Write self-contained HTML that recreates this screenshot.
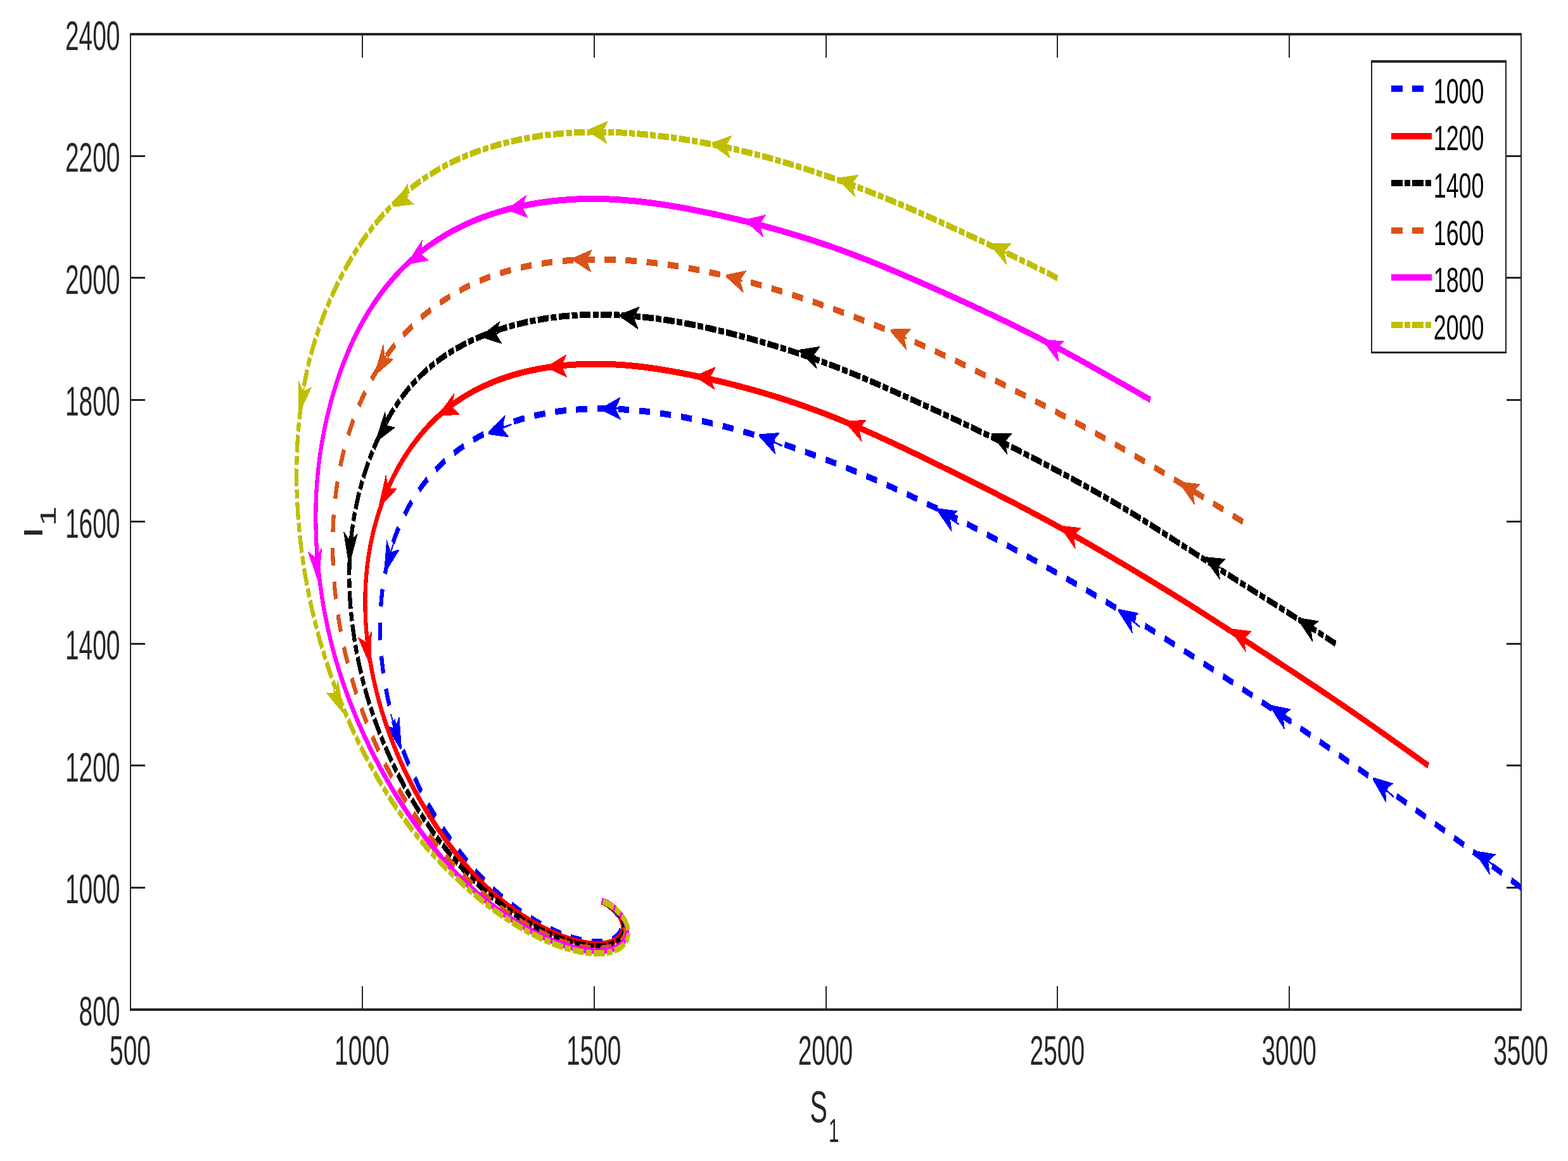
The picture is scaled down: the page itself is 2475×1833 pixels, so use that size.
<!DOCTYPE html>
<html><head><meta charset="utf-8"><title>Phase portrait S1-I1</title>
<style>html,body{margin:0;padding:0;background:#ffffff}svg{display:block}text{font-family:"Liberation Sans",sans-serif}</style></head>
<body>
<svg width="2475" height="1833" viewBox="0 0 2475 1833">
<rect x="0" y="0" width="2475" height="1833" fill="#ffffff"/>
<g fill="#262626" shape-rendering="crispEdges">
<rect x="205" y="52" width="2197" height="4"/>
<rect x="205" y="1592" width="2197" height="4"/>
<rect x="205" y="52" width="2" height="1544"/>
<rect x="2400" y="52" width="2" height="1544"/>
<rect x="571" y="1557" width="2" height="36"/>
<rect x="571" y="55" width="2" height="36"/>
<rect x="937" y="1557" width="2" height="36"/>
<rect x="937" y="55" width="2" height="36"/>
<rect x="1303" y="1557" width="2" height="36"/>
<rect x="1303" y="55" width="2" height="36"/>
<rect x="1668" y="1557" width="2" height="36"/>
<rect x="1668" y="55" width="2" height="36"/>
<rect x="2034" y="1557" width="2" height="36"/>
<rect x="2034" y="55" width="2" height="36"/>
<rect x="206" y="1400" width="23" height="3"/>
<rect x="2378" y="1400" width="23" height="3"/>
<rect x="206" y="1207" width="23" height="3"/>
<rect x="2378" y="1207" width="23" height="3"/>
<rect x="206" y="1015" width="23" height="3"/>
<rect x="2378" y="1015" width="23" height="3"/>
<rect x="206" y="822" width="23" height="3"/>
<rect x="2378" y="822" width="23" height="3"/>
<rect x="206" y="630" width="23" height="3"/>
<rect x="2378" y="630" width="23" height="3"/>
<rect x="206" y="437" width="23" height="3"/>
<rect x="2378" y="437" width="23" height="3"/>
<rect x="206" y="245" width="23" height="3"/>
<rect x="2378" y="245" width="23" height="3"/>
</g>
<clipPath id="plotclip"><rect x="205" y="52" width="2197.6" height="1544"/></clipPath>
<g clip-path="url(#plotclip)"><g transform="scale(0.625,1)" fill="none" stroke-width="10" stroke-linejoin="round" shape-rendering="crispEdges">
<path stroke="#0000ff" stroke-dasharray="27.8 25.27" d="M3841.6 1401.4 L3838 1399.7 L3834.4 1397.9 L3830.8 1396.2 L3827.2 1394.5 L3823.6 1392.8 L3820 1391.1 L3816.3 1389.4 L3812.7 1387.7 L3809.1 1386 L3805.5 1384.3 L3801.9 1382.6 L3798.3 1380.9 L3794.6 1379.2 L3791 1377.5 L3787.4 1375.8 L3783.8 1374.1 L3780.2 1372.4 L3776.5 1370.7 L3772.9 1369 L3769.3 1367.3 L3765.7 1365.7 L3762 1364 L3758.4 1362.3 L3754.8 1360.6 L3751.2 1358.9 L3747.5 1357.2 L3743.9 1355.5 L3740.3 1353.9 L3736.7 1352.2 L3733 1350.5 L3729.4 1348.8 L3725.8 1347.2 L3722.2 1345.5 L3718.5 1343.8 L3714.9 1342.1 L3711.3 1340.5 L3707.6 1338.8 L3704 1337.1 L3700.4 1335.5 L3696.7 1333.8 L3693.1 1332.1 L3689.5 1330.5 L3685.8 1328.8 L3682.2 1327.1 L3678.6 1325.5 L3674.9 1323.8 L3671.3 1322.2 L3667.7 1320.5 L3664 1318.8 L3660.4 1317.2 L3656.7 1315.5 L3653.1 1313.9 L3649.5 1312.2 L3645.8 1310.5 L3642.2 1308.9 L3638.6 1307.2 L3634.9 1305.6 L3631.3 1303.9 L3627.6 1302.2 L3624 1300.6 L3620.4 1298.9 L3616.7 1297.3 L3613.1 1295.6 L3609.5 1294 L3605.8 1292.3 L3602.2 1290.7 L3598.5 1289 L3594.9 1287.3 L3591.3 1285.7 L3587.6 1284 L3584 1282.4 L3580.3 1280.7 L3576.7 1279.1 L3573.1 1277.4 L3569.4 1275.8 L3565.8 1274.1 L3562.1 1272.5 L3558.5 1270.8 L3554.9 1269.2 L3551.2 1267.5 L3547.6 1265.9 L3543.9 1264.2 L3540.3 1262.6 L3536.6 1260.9 L3533 1259.3 L3529.4 1257.7 L3525.7 1256 L3522.1 1254.4 L3518.4 1252.7 L3514.8 1251.1 L3511.1 1249.5 L3507.5 1247.8 L3503.8 1246.2 L3500.2 1244.6 L3496.5 1242.9 L3492.9 1241.3 L3489.2 1239.7 L3485.6 1238 L3481.9 1236.4 L3478.3 1234.8 L3474.6 1233.1 L3471 1231.5 L3467.3 1229.9 L3463.7 1228.3 L3460 1226.6 L3456.4 1225 L3452.7 1223.4 L3449.1 1221.8 L3445.4 1220.1 L3441.8 1218.5 L3438.1 1216.9 L3434.5 1215.3 L3430.8 1213.7 L3427.1 1212.1 L3423.5 1210.4 L3419.8 1208.8 L3416.2 1207.2 L3412.5 1205.6 L3408.9 1204 L3405.2 1202.4 L3401.5 1200.8 L3397.9 1199.2 L3394.2 1197.5 L3390.6 1195.9 L3386.9 1194.3 L3383.2 1192.7 L3379.6 1191.1 L3375.9 1189.5 L3372.3 1187.9 L3368.6 1186.3 L3364.9 1184.7 L3361.3 1183.1 L3357.6 1181.5 L3353.9 1179.9 L3350.3 1178.3 L3346.6 1176.7 L3343 1175.1 L3339.3 1173.5 L3335.6 1171.9 L3332 1170.3 L3328.3 1168.7 L3324.6 1167.2 L3321 1165.6 L3317.3 1164 L3313.6 1162.4 L3310 1160.8 L3306.3 1159.2 L3302.6 1157.6 L3298.9 1156.1 L3295.3 1154.5 L3291.6 1152.9 L3287.9 1151.3 L3284.3 1149.7 L3280.6 1148.1 L3276.9 1146.6 L3273.2 1145 L3269.6 1143.4 L3265.9 1141.8 L3262.2 1140.3 L3258.5 1138.7 L3254.9 1137.1 L3251.2 1135.6 L3247.5 1134 L3243.8 1132.4 L3240.2 1130.9 L3236.5 1129.3 L3232.8 1127.7 L3229.1 1126.2 L3225.4 1124.6 L3221.8 1123.1 L3218.1 1121.5 L3214.4 1119.9 L3210.7 1118.4 L3207 1116.8 L3203.3 1115.3 L3199.7 1113.7 L3196 1112.2 L3192.3 1110.6 L3188.6 1109.1 L3184.9 1107.5 L3181.2 1106 L3177.6 1104.4 L3173.9 1102.9 L3170.2 1101.3 L3166.5 1099.8 L3162.8 1098.2 L3159.1 1096.7 L3155.4 1095.1 L3151.8 1093.6 L3148.1 1092.1 L3144.4 1090.5 L3140.7 1089 L3137 1087.4 L3133.3 1085.9 L3129.6 1084.4 L3125.9 1082.8 L3122.2 1081.3 L3118.5 1079.8 L3114.8 1078.2 L3111.2 1076.7 L3107.5 1075.2 L3103.8 1073.7 L3100.1 1072.1 L3096.4 1070.6 L3092.7 1069.1 L3089 1067.6 L3085.3 1066 L3081.6 1064.5 L3077.9 1063 L3074.2 1061.5 L3070.5 1060 L3066.8 1058.4 L3063.1 1056.9 L3059.4 1055.4 L3055.7 1053.9 L3052 1052.4 L3048.3 1050.9 L3044.6 1049.4 L3040.9 1047.9 L3037.2 1046.4 L3033.5 1044.8 L3029.8 1043.3 L3026.1 1041.8 L3022.4 1040.3 L3018.7 1038.8 L3015 1037.3 L3011.3 1035.8 L3007.6 1034.3 L3003.9 1032.8 L3000.2 1031.3 L2996.4 1029.8 L2992.7 1028.4 L2989 1026.9 L2985.3 1025.4 L2981.6 1023.9 L2977.9 1022.4 L2974.2 1020.9 L2970.5 1019.4 L2966.8 1017.9 L2963.1 1016.4 L2959.3 1015 L2955.6 1013.5 L2951.9 1012 L2948.2 1010.5 L2944.5 1009 L2940.8 1007.5 L2937.1 1006.1 L2933.4 1004.6 L2929.6 1003.1 L2925.9 1001.6 L2922.2 1000.2 L2918.5 998.7 L2914.8 997.2 L2911.1 995.7 L2907.3 994.3 L2903.6 992.8 L2899.9 991.3 L2896.2 989.9 L2892.5 988.4 L2888.8 987 L2885 985.5 L2881.3 984 L2877.6 982.6 L2873.9 981.1 L2870.1 979.7 L2866.4 978.2 L2862.7 976.8 L2859 975.3 L2855.2 973.9 L2851.5 972.4 L2847.8 971 L2844.1 969.5 L2840.3 968.1 L2836.6 966.7 L2832.9 965.2 L2829.1 963.8 L2825.4 962.4 L2821.7 960.9 L2817.9 959.5 L2814.2 958.1 L2810.5 956.7 L2806.7 955.3 L2803 953.8 L2799.2 952.4 L2795.5 951 L2791.8 949.6 L2788 948.2 L2784.3 946.8 L2780.5 945.4 L2776.8 944 L2773 942.6 L2769.3 941.2 L2765.6 939.8 L2761.8 938.4 L2758.1 937 L2754.3 935.6 L2750.6 934.3 L2746.8 932.9 L2743.1 931.5 L2739.3 930.1 L2735.6 928.7 L2731.8 927.4 L2728 926 L2724.3 924.6 L2720.5 923.2 L2716.8 921.9 L2713 920.5 L2709.3 919.1 L2705.5 917.8 L2701.8 916.4 L2698 915.1 L2694.2 913.7 L2690.5 912.3 L2686.7 911 L2683 909.6 L2679.2 908.3 L2675.4 906.9 L2671.7 905.6 L2667.9 904.3 L2664.1 902.9 L2660.4 901.6 L2656.6 900.2 L2652.8 898.9 L2649.1 897.6 L2645.3 896.2 L2641.5 894.9 L2637.8 893.6 L2634 892.2 L2630.2 890.9 L2626.4 889.6 L2622.7 888.3 L2618.9 886.9 L2615.1 885.6 L2611.4 884.3 L2607.6 883 L2603.8 881.7 L2600 880.4 L2596.3 879.1 L2592.5 877.7 L2588.7 876.4 L2584.9 875.1 L2581.1 873.8 L2577.4 872.5 L2573.6 871.2 L2569.8 869.9 L2566 868.6 L2562.2 867.3 L2558.5 866.1 L2554.7 864.8 L2550.9 863.5 L2547.1 862.2 L2543.3 860.9 L2539.5 859.6 L2535.7 858.3 L2532 857.1 L2528.2 855.8 L2524.4 854.5 L2520.6 853.2 L2516.8 852 L2513 850.7 L2509.2 849.4 L2505.4 848.1 L2501.6 846.9 L2497.9 845.6 L2494.1 844.3 L2490.3 843.1 L2486.5 841.8 L2482.7 840.5 L2478.9 839.3 L2475.1 838 L2471.3 836.7 L2467.5 835.5 L2463.7 834.2 L2459.9 832.9 L2456.1 831.7 L2452.4 830.4 L2448.6 829.2 L2444.8 827.9 L2441 826.7 L2437.2 825.4 L2433.4 824.2 L2429.6 822.9 L2425.8 821.7 L2422 820.5 L2418.2 819.2 L2414.4 818 L2410.5 816.8 L2406.7 815.6 L2402.9 814.4 L2399.1 813.2 L2395.3 811.9 L2391.5 810.7 L2387.7 809.5 L2383.9 808.4 L2380.1 807.2 L2376.2 806 L2372.4 804.8 L2368.6 803.6 L2364.8 802.4 L2361 801.3 L2357.1 800.1 L2353.3 798.9 L2349.5 797.8 L2345.7 796.6 L2341.8 795.4 L2338 794.3 L2334.2 793.1 L2330.4 792 L2326.5 790.8 L2322.7 789.7 L2318.9 788.6 L2315 787.4 L2311.2 786.3 L2307.4 785.1 L2303.5 784 L2299.7 782.9 L2295.9 781.8 L2292 780.7 L2288.2 779.5 L2284.3 778.4 L2280.5 777.3 L2276.7 776.2 L2272.8 775.1 L2269 774 L2265.1 772.9 L2261.3 771.8 L2257.4 770.7 L2253.6 769.6 L2249.8 768.6 L2245.9 767.5 L2242.1 766.4 L2238.2 765.3 L2234.4 764.2 L2230.5 763.2 L2226.6 762.1 L2222.8 761.1 L2218.9 760 L2215.1 758.9 L2211.2 757.9 L2207.4 756.8 L2203.5 755.8 L2199.7 754.8 L2195.8 753.7 L2191.9 752.7 L2188.1 751.6 L2184.2 750.6 L2180.3 749.6 L2176.5 748.6 L2172.6 747.6 L2168.7 746.5 L2164.9 745.5 L2161 744.5 L2157.1 743.5 L2153.3 742.5 L2149.4 741.5 L2145.5 740.5 L2141.7 739.5 L2137.8 738.5 L2133.9 737.6 L2130 736.6 L2126.2 735.6 L2122.3 734.6 L2118.4 733.7 L2114.5 732.7 L2110.6 731.7 L2106.8 730.8 L2102.9 729.8 L2099 728.9 L2095.1 727.9 L2091.2 727 L2087.3 726 L2083.5 725.1 L2079.6 724.2 L2075.7 723.2 L2071.8 722.3 L2067.9 721.4 L2064 720.5 L2060.1 719.6 L2056.2 718.6 L2052.3 717.7 L2048.4 716.8 L2044.6 715.9 L2040.7 715 L2036.8 714.1 L2032.9 713.3 L2029 712.4 L2025.1 711.5 L2021.2 710.6 L2017.3 709.7 L2013.4 708.9 L2009.5 708 L2005.6 707.1 L2001.7 706.3 L1997.8 705.4 L1993.8 704.6 L1989.9 703.7 L1986 702.9 L1982.1 702.1 L1978.2 701.2 L1974.3 700.4 L1970.4 699.6 L1966.5 698.8 L1962.6 698 L1958.6 697.1 L1954.7 696.3 L1950.8 695.5 L1946.9 694.7 L1943 694 L1939.1 693.2 L1935.1 692.4 L1931.2 691.6 L1927.3 690.8 L1923.4 690.1 L1919.5 689.3 L1915.5 688.5 L1911.6 687.8 L1907.7 687.1 L1903.7 686.3 L1899.8 685.6 L1895.9 684.8 L1892 684.1 L1888 683.4 L1884.1 682.7 L1880.2 682 L1876.2 681.2 L1872.3 680.5 L1868.4 679.9 L1864.4 679.2 L1860.5 678.5 L1856.5 677.8 L1852.6 677.1 L1848.7 676.4 L1844.7 675.8 L1840.8 675.1 L1836.8 674.5 L1832.9 673.8 L1828.9 673.2 L1825 672.5 L1821 671.9 L1817.1 671.3 L1813.2 670.7 L1809.2 670.1 L1805.2 669.5 L1801.3 668.9 L1797.3 668.3 L1793.4 667.7 L1789.4 667.1 L1785.5 666.5 L1781.5 665.9 L1777.6 665.4 L1773.6 664.8 L1769.6 664.3 L1765.7 663.7 L1761.7 663.2 L1757.8 662.7 L1753.8 662.1 L1749.8 661.6 L1745.9 661.1 L1741.9 660.6 L1737.9 660.1 L1734 659.6 L1730 659.1 L1726 658.6 L1722.1 658.2 L1718.1 657.7 L1714.1 657.3 L1710.2 656.8 L1706.2 656.4 L1702.2 655.9 L1698.2 655.5 L1694.3 655.1 L1690.3 654.7 L1686.3 654.3 L1682.3 653.9 L1678.4 653.5 L1674.4 653.1 L1670.4 652.8 L1666.4 652.4 L1662.4 652 L1658.4 651.7 L1654.5 651.4 L1650.5 651 L1646.5 650.7 L1642.5 650.4 L1638.5 650.1 L1634.5 649.8 L1630.6 649.5 L1626.6 649.2 L1622.6 649 L1618.6 648.7 L1614.6 648.5 L1610.6 648.2 L1606.6 648 L1602.6 647.8 L1598.6 647.5 L1594.6 647.3 L1590.7 647.1 L1586.7 647 L1582.7 646.8 L1578.7 646.6 L1574.7 646.4 L1570.7 646.3 L1566.7 646.2 L1562.7 646 L1558.7 645.9 L1554.7 645.8 L1550.7 645.7 L1546.7 645.6 L1542.7 645.5 L1538.7 645.5 L1534.7 645.4 L1530.7 645.4 L1526.7 645.3 L1522.7 645.3 L1518.7 645.3 L1514.7 645.3 L1510.7 645.3 L1506.7 645.3 L1502.7 645.3 L1498.7 645.4 L1494.7 645.4 L1490.8 645.5 L1486.8 645.6 L1482.8 645.7 L1478.8 645.8 L1474.8 645.9 L1470.8 646 L1466.8 646.1 L1462.8 646.3 L1458.8 646.5 L1454.8 646.6 L1450.8 646.8 L1446.8 647 L1442.8 647.2 L1438.8 647.5 L1434.8 647.7 L1430.8 648 L1426.9 648.2 L1422.9 648.5 L1418.9 648.8 L1414.9 649.1 L1410.9 649.4 L1406.9 649.8 L1403 650.1 L1399 650.5 L1395 650.9 L1391 651.3 L1387 651.7 L1383.1 652.1 L1379.1 652.6 L1375.1 653 L1371.2 653.5 L1367.2 654 L1363.2 654.5 L1359.3 655.1 L1355.3 655.6 L1351.3 656.2 L1347.4 656.7 L1343.4 657.3 L1339.5 657.9 L1335.5 658.6 L1331.6 659.2 L1327.6 659.9 L1323.7 660.5 L1319.8 661.2 L1315.8 661.9 L1311.9 662.7 L1308 663.4 L1304.1 664.2 L1300.1 665 L1296.2 665.8 L1292.3 666.6 L1288.4 667.5 L1284.5 668.3 L1280.6 669.2 L1276.7 670.1 L1272.8 671 L1268.9 672 L1265.1 673 L1261.2 673.9 L1257.3 674.9 L1253.5 676 L1249.6 677 L1245.8 678.1 L1241.9 679.2 L1238.1 680.3 L1234.2 681.4 L1230.4 682.6 L1226.6 683.8 L1222.8 685 L1219 686.2 L1215.2 687.5 L1211.4 688.8 L1207.6 690.1 L1203.9 691.4 L1200.1 692.8 L1196.3 694.1 L1192.6 695.5 L1188.9 697 L1185.1 698.4 L1181.4 699.9 L1177.7 701.4 L1174 703 L1170.4 704.5 L1166.7 706.1 L1163 707.7 L1159.4 709.4 L1155.8 711.1 L1152.2 712.8 L1148.6 714.5 L1145 716.3 L1141.4 718.1 L1137.8 719.9 L1134.3 721.8 L1130.8 723.7 L1127.3 725.6 L1123.8 727.5 L1120.3 729.5 L1116.9 731.5 L1113.4 733.6 L1110 735.7 L1106.6 737.8 L1103.3 739.9 L1099.9 742.1 L1096.6 744.3 L1093.3 746.6 L1090 748.9 L1086.7 751.2 L1083.5 753.5 L1080.3 755.9 L1077.1 758.3 L1074 760.8 L1070.9 763.3 L1067.8 765.8 L1064.7 768.4 L1061.7 771 L1058.7 773.6 L1055.7 776.3 L1052.7 779 L1049.8 781.8 L1047 784.5 L1044.1 787.4 L1041.3 790.2 L1038.6 793.1 L1035.8 796 L1033.1 799 L1030.5 802 L1027.9 805 L1025.3 808 L1022.8 811.1 L1020.3 814.3 L1017.8 817.4 L1015.4 820.6 L1013.1 823.9 L1010.8 827.1 L1008.5 830.4 L1006.3 833.7 L1004.1 837.1 L1002 840.5 L999.9 843.9 L997.9 847.3 L995.9 850.8 L994 854.3 L992.1 857.8 L990.2 861.4 L988.5 865 L986.7 868.6 L985.1 872.2 L983.4 875.8 L981.9 879.5 L980.4 883.2 L978.9 886.9 L977.5 890.7 L976.1 894.4 L974.8 898.2 L973.6 902 L972.4 905.8 L971.3 909.7 L970.2 913.5 L969.2 917.4 L968.2 921.3 L967.3 925.1 L966.4 929.1 L965.6 933 L964.9 936.9 L964.2 940.8 L963.5 944.8 L962.9 948.7 L962.4 952.7 L961.9 956.7 L961.5 960.6 L961.1 964.6 L960.8 968.6 L960.6 972.6 L960.3 976.6 L960.2 980.6 L960.1 984.6 L960 988.6 L960 992.6 L960.1 996.6 L960.2 1000.6 L960.3 1004.5 L960.5 1008.5 L960.8 1012.5 L961.1 1016.5 L961.5 1020.5 L961.9 1024.5 L962.3 1028.4 L962.8 1032.4 L963.4 1036.4 L963.9 1040.3 L964.6 1044.3 L965.3 1048.2 L966 1052.1 L966.8 1056.1 L967.6 1060 L968.4 1063.9 L969.3 1067.8 L970.3 1071.7 L971.3 1075.5 L972.3 1079.4 L973.4 1083.2 L974.5 1087.1 L975.7 1090.9 L976.8 1094.7 L978.1 1098.5 L979.4 1102.3 L980.7 1106.1 L982 1109.9 L983.4 1113.6 L984.8 1117.3 L986.3 1121.1 L987.8 1124.8 L989.3 1128.5 L990.9 1132.1 L992.5 1135.8 L994.1 1139.4 L995.8 1143.1 L997.5 1146.7 L999.3 1150.3 L1001 1153.9 L1002.8 1157.4 L1004.7 1161 L1006.6 1164.5 L1008.5 1168 L1010.4 1171.5 L1012.4 1175 L1014.3 1178.5 L1016.4 1181.9 L1018.4 1185.3 L1020.5 1188.8 L1022.6 1192.2 L1024.7 1195.5 L1026.9 1198.9 L1029.1 1202.3 L1031.3 1205.6 L1033.5 1208.9 L1035.8 1212.2 L1038.1 1215.5 L1040.4 1218.7 L1042.7 1222 L1045.1 1225.2 L1047.4 1228.4 L1049.8 1231.6 L1052.3 1234.8 L1054.7 1238 L1057.2 1241.1 L1059.7 1244.2 L1062.2 1247.3 L1064.7 1250.4 L1067.3 1253.5 L1069.9 1256.6 L1072.5 1259.6 L1075.1 1262.6 L1077.7 1265.6 L1080.4 1268.6 L1083 1271.6 L1085.7 1274.5 L1088.4 1277.5 L1091.2 1280.4 L1093.9 1283.3 L1096.7 1286.2 L1099.5 1289 L1102.3 1291.9 L1105.1 1294.7 L1107.9 1297.5 L1110.8 1300.3 L1113.6 1303.1 L1116.5 1305.9 L1119.4 1308.7 L1122.3 1311.4 L1125.3 1314.1 L1128.2 1316.8 L1131.2 1319.5 L1134.2 1322.2 L1137.1 1324.8 L1140.1 1327.5 L1143.2 1330.1 L1146.2 1332.7 L1149.2 1335.3 L1152.3 1337.9 L1155.3 1340.4 L1158.4 1343 L1161.5 1345.5 L1164.6 1348 L1167.8 1350.5 L1170.9 1353 L1174 1355.5 L1177.2 1357.9 L1180.4 1360.3 L1183.6 1362.7 L1186.8 1365.1 L1190 1367.5 L1193.2 1369.8 L1196.5 1372.2 L1199.7 1374.5 L1203 1376.8 L1206.3 1379 L1209.6 1381.3 L1212.9 1383.5 L1216.3 1385.7 L1219.6 1387.9 L1223 1390.1 L1226.4 1392.2 L1229.8 1394.3 L1233.2 1396.4 L1236.6 1398.5 L1240 1400.5 L1243.4 1402.6 L1246.9 1404.6 L1250.4 1406.6 L1253.9 1408.5 L1257.3 1410.5 L1260.8 1412.4 L1264.4 1414.3 L1267.9 1416.2 L1271.4 1418 L1275 1419.9 L1278.5 1421.7 L1282.1 1423.5 L1285.7 1425.3 L1289.3 1427.1 L1292.9 1428.8 L1296.5 1430.5 L1300.1 1432.2 L1303.7 1433.9 L1307.3 1435.6 L1311 1437.2 L1314.6 1438.8 L1318.3 1440.4 L1322 1442 L1325.7 1443.6 L1329.4 1445.1 L1333.1 1446.6 L1336.8 1448.1 L1340.5 1449.6 L1344.2 1451 L1347.9 1452.5 L1351.7 1453.9 L1355.4 1455.3 L1359.2 1456.6 L1362.9 1458 L1366.7 1459.3 L1370.5 1460.6 L1374.3 1461.8 L1378.1 1463.1 L1381.9 1464.3 L1385.7 1465.5 L1389.5 1466.7 L1393.4 1467.8 L1397.2 1469 L1401 1470.1 L1404.9 1471.2 L1408.7 1472.2 L1412.6 1473.2 L1416.5 1474.2 L1420.4 1475.2 L1424.2 1476.1 L1428.1 1477 L1432 1477.9 L1435.9 1478.8 L1439.8 1479.6 L1443.8 1480.4 L1447.7 1481.1 L1451.6 1481.8 L1455.6 1482.5 L1459.5 1483.2 L1463.5 1483.8 L1467.4 1484.3 L1471.4 1484.9 L1475.3 1485.4 L1479.3 1485.8 L1483.3 1486.2 L1487.3 1486.5 L1491.3 1486.8 L1495.3 1487.1 L1499.2 1487.3 L1503.2 1487.4 L1507.2 1487.4 L1511.2 1487.4 L1515.2 1487.3 L1519.2 1487.2 L1523.2 1486.9 L1527.2 1486.6 L1531.2 1486.1 L1535.1 1485.5 L1539.1 1484.8 L1543 1483.9 L1546.8 1482.9 L1550.6 1481.6 L1554.3 1480.1 L1557.9 1478.3 L1561.2 1476.1 L1564.3 1473.5 L1566.8 1470.4 L1568.6 1466.9 L1569.6 1463 L1569.5 1459 L1568.3 1455.2 L1566.5 1451.7 L1564.2 1448.4 L1561.5 1445.5 L1558.6 1442.7 L1555.5 1440.2 L1552.2 1437.9 L1548.9 1435.7 L1545.4 1433.7 L1541.8 1431.9 L1538.2 1430.2 L1534.5 1428.7 L1530.8 1427.3 L1527 1426.1 L1523.1 1425 L1519.2 1424.2"/>
<polygon fill="#0000ff" stroke="#0000ff" stroke-width="1.6" stroke-linejoin="round" points="1234.5,685.2 1233.9,682.7 1275.6,656.3 1267.2,675.9 1283.7,689.5"/>
<path stroke="#0000ff" stroke-width="3" stroke-dasharray="none" d="M1235.6 683.6 L1292 669.9"/>
<polygon fill="#0000ff" stroke="#0000ff" stroke-width="1.6" stroke-linejoin="round" points="1519.9,646.9 1519.9,644.3 1566.4,627.7 1553.9,645 1567,661.9"/>
<path stroke="#0000ff" stroke-width="3" stroke-dasharray="none" d="M1521.4 645.6 L1579.4 644.6"/>
<polygon fill="#0000ff" stroke="#0000ff" stroke-width="1.6" stroke-linejoin="round" points="1917.8,688.6 1918.5,686.1 1967.8,683.9 1950.8,696.8 1958.3,716.8"/>
<path stroke="#0000ff" stroke-width="3" stroke-dasharray="none" d="M1919.6 687.8 L1975.3 703.9"/>
<polygon fill="#0000ff" stroke="#0000ff" stroke-width="1.6" stroke-linejoin="round" points="973.1,903.5 970.7,902.3 976.9,853.3 986.7,872.3 1007.7,868.3"/>
<path stroke="#0000ff" stroke-width="3" stroke-dasharray="none" d="M972.6 901.6 L997.9 849.4"/>
<polygon fill="#0000ff" stroke="#0000ff" stroke-width="1.6" stroke-linejoin="round" points="2824.6,964.6 2825.7,962.2 2874.7,968.6 2855.7,978.3 2859.7,999.3"/>
<path stroke="#0000ff" stroke-width="3" stroke-dasharray="none" d="M2826.5 964.1 L2878.6 989.5"/>
<polygon fill="#0000ff" stroke="#0000ff" stroke-width="1.6" stroke-linejoin="round" points="3208.5,1116.1 3209.6,1113.8 3258.6,1120 3239.6,1129.8 3243.7,1150.7"/>
<path stroke="#0000ff" stroke-width="3" stroke-dasharray="none" d="M3210.4 1115.6 L3262.6 1140.9"/>
<polygon fill="#0000ff" stroke="#0000ff" stroke-width="1.6" stroke-linejoin="round" points="3467.6,1230.5 3468.9,1228.2 3517.5,1237.2 3498,1245.9 3500.9,1267"/>
<path stroke="#0000ff" stroke-width="3" stroke-dasharray="none" d="M3469.6 1230.1 L3520.3 1258.3"/>
<polygon fill="#0000ff" stroke="#0000ff" stroke-width="1.6" stroke-linejoin="round" points="3726.1,1346.6 3727.1,1344.2 3776.3,1349.1 3757.6,1359.4 3762.2,1380.3"/>
<path stroke="#0000ff" stroke-width="3" stroke-dasharray="none" d="M3728 1346 L3780.8 1369.9"/>
<polygon fill="#0000ff" stroke="#0000ff" stroke-width="1.6" stroke-linejoin="round" points="2366.8,805.4 2367.8,803 2417,807.3 2398.5,817.8 2403.3,838.6"/>
<path stroke="#0000ff" stroke-width="3" stroke-dasharray="none" d="M2368.7 804.8 L2421.8 828"/>
<polygon fill="#0000ff" stroke="#0000ff" stroke-width="1.6" stroke-linejoin="round" points="1013.5,1181.1 1011.2,1182.2 977,1146.6 997.9,1150.9 1007.9,1132"/>
<path stroke="#0000ff" stroke-width="3" stroke-dasharray="none" d="M1011.7 1180.3 L987 1127.8"/>
<path stroke="#ff0000" d="M3607.5 1208.8 L3603.9 1207.2 L3600.2 1205.6 L3596.6 1203.9 L3592.9 1202.3 L3589.3 1200.7 L3585.6 1199 L3582 1197.4 L3578.3 1195.8 L3574.7 1194.1 L3571 1192.5 L3567.4 1190.9 L3563.7 1189.2 L3560.1 1187.6 L3556.4 1186 L3552.8 1184.4 L3549.1 1182.7 L3545.5 1181.1 L3541.8 1179.5 L3538.2 1177.9 L3534.5 1176.2 L3530.9 1174.6 L3527.2 1173 L3523.5 1171.4 L3519.9 1169.7 L3516.2 1168.1 L3512.6 1166.5 L3508.9 1164.9 L3505.3 1163.2 L3501.6 1161.6 L3498 1160 L3494.3 1158.4 L3490.6 1156.8 L3487 1155.2 L3483.3 1153.5 L3479.7 1151.9 L3476 1150.3 L3472.3 1148.7 L3468.7 1147.1 L3465 1145.5 L3461.4 1143.9 L3457.7 1142.3 L3454 1140.7 L3450.4 1139.1 L3446.7 1137.5 L3443 1135.9 L3439.4 1134.3 L3435.7 1132.7 L3432 1131.1 L3428.4 1129.5 L3424.7 1127.9 L3421 1126.3 L3417.4 1124.7 L3413.7 1123.1 L3410 1121.6 L3406.3 1120 L3402.7 1118.4 L3399 1116.8 L3395.3 1115.3 L3391.6 1113.7 L3388 1112.1 L3384.3 1110.5 L3380.6 1109 L3376.9 1107.4 L3373.2 1105.9 L3369.6 1104.3 L3365.9 1102.7 L3362.2 1101.2 L3358.5 1099.6 L3354.8 1098.1 L3351.1 1096.5 L3347.4 1095 L3343.8 1093.4 L3340.1 1091.9 L3336.4 1090.3 L3332.7 1088.8 L3329 1087.2 L3325.3 1085.7 L3321.6 1084.1 L3317.9 1082.6 L3314.2 1081.1 L3310.6 1079.5 L3306.9 1078 L3303.2 1076.4 L3299.5 1074.9 L3295.8 1073.4 L3292.1 1071.8 L3288.4 1070.3 L3284.7 1068.8 L3281 1067.3 L3277.3 1065.7 L3273.6 1064.2 L3269.9 1062.7 L3266.2 1061.1 L3262.5 1059.6 L3258.8 1058.1 L3255.1 1056.6 L3251.4 1055 L3247.7 1053.5 L3244 1052 L3240.3 1050.5 L3236.6 1049 L3232.9 1047.4 L3229.2 1045.9 L3225.5 1044.4 L3221.8 1042.9 L3218.1 1041.4 L3214.5 1039.8 L3210.8 1038.3 L3207.1 1036.8 L3203.4 1035.3 L3199.7 1033.8 L3195.9 1032.2 L3192.2 1030.7 L3188.5 1029.2 L3184.8 1027.7 L3181.1 1026.2 L3177.4 1024.7 L3173.7 1023.2 L3170 1021.6 L3166.3 1020.1 L3162.6 1018.6 L3158.9 1017.1 L3155.2 1015.6 L3151.5 1014.1 L3147.8 1012.6 L3144.1 1011.1 L3140.4 1009.6 L3136.7 1008 L3133 1006.5 L3129.3 1005 L3125.6 1003.5 L3121.9 1002 L3118.2 1000.5 L3114.5 999 L3110.8 997.5 L3107.1 996 L3103.4 994.5 L3099.7 993 L3096 991.5 L3092.3 990 L3088.6 988.5 L3084.8 987 L3081.1 985.5 L3077.4 984 L3073.7 982.5 L3070 981 L3066.3 979.5 L3062.6 978 L3058.9 976.5 L3055.2 975 L3051.5 973.5 L3047.8 972 L3044 970.5 L3040.3 969 L3036.6 967.6 L3032.9 966.1 L3029.2 964.6 L3025.5 963.1 L3021.8 961.6 L3018 960.2 L3014.3 958.7 L3010.6 957.2 L3006.9 955.7 L3003.2 954.3 L2999.5 952.8 L2995.7 951.3 L2992 949.9 L2988.3 948.4 L2984.6 946.9 L2980.8 945.5 L2977.1 944 L2973.4 942.6 L2969.7 941.1 L2965.9 939.7 L2962.2 938.2 L2958.5 936.8 L2954.7 935.3 L2951 933.9 L2947.3 932.5 L2943.6 931 L2939.8 929.6 L2936.1 928.2 L2932.4 926.7 L2928.6 925.3 L2924.9 923.9 L2921.1 922.4 L2917.4 921 L2913.7 919.6 L2909.9 918.2 L2906.2 916.7 L2902.5 915.3 L2898.7 913.9 L2895 912.5 L2891.2 911.1 L2887.5 909.7 L2883.8 908.3 L2880 906.9 L2876.3 905.4 L2872.5 904 L2868.8 902.6 L2865 901.2 L2861.3 899.8 L2857.5 898.4 L2853.8 897 L2850.1 895.6 L2846.3 894.2 L2842.6 892.8 L2838.8 891.4 L2835.1 890 L2831.3 888.7 L2827.6 887.3 L2823.8 885.9 L2820.1 884.5 L2816.3 883.1 L2812.6 881.7 L2808.8 880.3 L2805.1 878.9 L2801.3 877.6 L2797.5 876.2 L2793.8 874.8 L2790 873.4 L2786.3 872 L2782.5 870.7 L2778.8 869.3 L2775 867.9 L2771.3 866.6 L2767.5 865.2 L2763.7 863.8 L2760 862.5 L2756.2 861.1 L2752.5 859.7 L2748.7 858.4 L2744.9 857 L2741.2 855.7 L2737.4 854.3 L2733.7 853 L2729.9 851.6 L2726.1 850.3 L2722.4 848.9 L2718.6 847.6 L2714.8 846.2 L2711.1 844.9 L2707.3 843.6 L2703.5 842.2 L2699.7 840.9 L2696 839.6 L2692.2 838.3 L2688.4 836.9 L2684.6 835.6 L2680.9 834.3 L2677.1 833 L2673.3 831.7 L2669.5 830.4 L2665.7 829.1 L2662 827.8 L2658.2 826.5 L2654.4 825.2 L2650.6 823.9 L2646.8 822.6 L2643 821.3 L2639.3 820 L2635.5 818.8 L2631.7 817.5 L2627.9 816.2 L2624.1 814.9 L2620.3 813.7 L2616.5 812.4 L2612.7 811.1 L2608.9 809.9 L2605.1 808.6 L2601.3 807.4 L2597.5 806.1 L2593.7 804.9 L2589.9 803.6 L2586.1 802.4 L2582.3 801.1 L2578.5 799.9 L2574.7 798.6 L2570.9 797.4 L2567.1 796.2 L2563.3 794.9 L2559.5 793.7 L2555.7 792.5 L2551.9 791.2 L2548.1 790 L2544.3 788.8 L2540.5 787.5 L2536.7 786.3 L2532.9 785.1 L2529.1 783.9 L2525.2 782.7 L2521.4 781.5 L2517.6 780.2 L2513.8 779 L2510 777.8 L2506.2 776.6 L2502.4 775.4 L2498.6 774.2 L2494.8 773 L2490.9 771.8 L2487.1 770.6 L2483.3 769.4 L2479.5 768.2 L2475.7 767 L2471.9 765.8 L2468.1 764.6 L2464.2 763.4 L2460.4 762.2 L2456.6 761 L2452.8 759.8 L2449 758.6 L2445.2 757.4 L2441.3 756.2 L2437.5 755 L2433.7 753.8 L2429.9 752.7 L2426.1 751.5 L2422.2 750.3 L2418.4 749.1 L2414.6 747.9 L2410.8 746.7 L2407 745.6 L2403.1 744.4 L2399.3 743.2 L2395.5 742 L2391.7 740.8 L2387.9 739.7 L2384 738.5 L2380.2 737.3 L2376.4 736.1 L2372.6 735 L2368.7 733.8 L2364.9 732.6 L2361.1 731.4 L2357.3 730.3 L2353.4 729.1 L2349.6 727.9 L2345.8 726.8 L2342 725.6 L2338.1 724.4 L2334.3 723.3 L2330.5 722.1 L2326.7 720.9 L2322.8 719.8 L2319 718.6 L2315.2 717.5 L2311.4 716.3 L2307.5 715.2 L2303.7 714 L2299.9 712.9 L2296 711.7 L2292.2 710.6 L2288.4 709.4 L2284.5 708.3 L2280.7 707.1 L2276.9 706 L2273 704.9 L2269.2 703.7 L2265.4 702.6 L2261.5 701.5 L2257.7 700.4 L2253.8 699.2 L2250 698.1 L2246.2 697 L2242.3 695.9 L2238.5 694.8 L2234.6 693.7 L2230.8 692.6 L2227 691.5 L2223.1 690.4 L2219.3 689.3 L2215.4 688.2 L2211.6 687.1 L2207.7 686 L2203.9 684.9 L2200 683.8 L2196.2 682.8 L2192.3 681.7 L2188.5 680.6 L2184.6 679.6 L2180.7 678.5 L2176.9 677.5 L2173 676.4 L2169.2 675.4 L2165.3 674.3 L2161.5 673.3 L2157.6 672.2 L2153.7 671.2 L2149.9 670.2 L2146 669.2 L2142.1 668.1 L2138.3 667.1 L2134.4 666.1 L2130.5 665.1 L2126.6 664.1 L2122.8 663.1 L2118.9 662.1 L2115 661.2 L2111.1 660.2 L2107.3 659.2 L2103.4 658.2 L2099.5 657.3 L2095.6 656.3 L2091.7 655.4 L2087.8 654.4 L2084 653.5 L2080.1 652.5 L2076.2 651.6 L2072.3 650.7 L2068.4 649.8 L2064.5 648.9 L2060.6 648 L2056.7 647 L2052.8 646.2 L2048.9 645.3 L2045 644.4 L2041.1 643.5 L2037.2 642.6 L2033.3 641.7 L2029.4 640.9 L2025.5 640 L2021.6 639.2 L2017.7 638.3 L2013.8 637.5 L2009.9 636.6 L2006 635.8 L2002 635 L1998.1 634.2 L1994.2 633.4 L1990.3 632.5 L1986.4 631.7 L1982.5 630.9 L1978.5 630.2 L1974.6 629.4 L1970.7 628.6 L1966.8 627.8 L1962.8 627 L1958.9 626.3 L1955 625.5 L1951.1 624.8 L1947.1 624 L1943.2 623.3 L1939.3 622.5 L1935.4 621.8 L1931.4 621 L1927.5 620.3 L1923.6 619.6 L1919.6 618.9 L1915.7 618.2 L1911.7 617.5 L1907.8 616.8 L1903.9 616.1 L1899.9 615.4 L1896 614.7 L1892 614 L1888.1 613.4 L1884.2 612.7 L1880.2 612 L1876.3 611.4 L1872.3 610.7 L1868.4 610.1 L1864.4 609.4 L1860.5 608.8 L1856.5 608.1 L1852.6 607.5 L1848.6 606.9 L1844.7 606.3 L1840.7 605.6 L1836.8 605 L1832.8 604.4 L1828.9 603.8 L1824.9 603.2 L1821 602.6 L1817 602 L1813.1 601.4 L1809.1 600.9 L1805.2 600.3 L1801.2 599.7 L1797.2 599.1 L1793.3 598.6 L1789.3 598 L1785.4 597.5 L1781.4 596.9 L1777.4 596.4 L1773.5 595.8 L1769.5 595.3 L1765.5 594.7 L1761.6 594.2 L1757.6 593.7 L1753.7 593.2 L1749.7 592.7 L1745.7 592.1 L1741.8 591.6 L1737.8 591.1 L1733.8 590.6 L1729.8 590.2 L1725.9 589.7 L1721.9 589.2 L1717.9 588.7 L1714 588.3 L1710 587.8 L1706 587.3 L1702 586.9 L1698.1 586.4 L1694.1 586 L1690.1 585.6 L1686.1 585.1 L1682.2 584.7 L1678.2 584.3 L1674.2 583.9 L1670.2 583.5 L1666.3 583.1 L1662.3 582.7 L1658.3 582.3 L1654.3 582 L1650.3 581.6 L1646.3 581.3 L1642.4 580.9 L1638.4 580.6 L1634.4 580.2 L1630.4 579.9 L1626.4 579.6 L1622.4 579.3 L1618.4 579 L1614.5 578.7 L1610.5 578.4 L1606.5 578.2 L1602.5 577.9 L1598.5 577.6 L1594.5 577.4 L1590.5 577.2 L1586.5 576.9 L1582.5 576.7 L1578.5 576.5 L1574.5 576.3 L1570.5 576.1 L1566.5 576 L1562.5 575.8 L1558.6 575.6 L1554.6 575.5 L1550.6 575.3 L1546.6 575.2 L1542.6 575.1 L1538.6 575 L1534.6 574.9 L1530.6 574.8 L1526.6 574.8 L1522.6 574.7 L1518.6 574.7 L1514.6 574.6 L1510.6 574.6 L1506.6 574.6 L1502.6 574.6 L1498.6 574.6 L1494.6 574.6 L1490.6 574.6 L1486.6 574.7 L1482.6 574.7 L1478.6 574.8 L1474.6 574.9 L1470.6 575 L1466.6 575.1 L1462.6 575.2 L1458.6 575.3 L1454.6 575.5 L1450.6 575.6 L1446.6 575.8 L1442.6 576 L1438.6 576.1 L1434.6 576.3 L1430.6 576.6 L1426.6 576.8 L1422.6 577 L1418.7 577.3 L1414.7 577.5 L1410.7 577.8 L1406.7 578.1 L1402.7 578.4 L1398.7 578.7 L1394.7 579.1 L1390.7 579.4 L1386.8 579.8 L1382.8 580.2 L1378.8 580.5 L1374.8 580.9 L1370.8 581.4 L1366.9 581.8 L1362.9 582.2 L1358.9 582.7 L1354.9 583.2 L1351 583.7 L1347 584.2 L1343 584.7 L1339.1 585.2 L1335.1 585.8 L1331.2 586.3 L1327.2 586.9 L1323.3 587.5 L1319.3 588.1 L1315.4 588.8 L1311.4 589.4 L1307.5 590.1 L1303.5 590.8 L1299.6 591.5 L1295.7 592.2 L1291.7 592.9 L1287.8 593.7 L1283.9 594.5 L1279.9 595.2 L1276 596.1 L1272.1 596.9 L1268.2 597.7 L1264.3 598.6 L1260.4 599.5 L1256.5 600.4 L1252.6 601.3 L1248.7 602.3 L1244.9 603.3 L1241 604.3 L1237.1 605.3 L1233.3 606.3 L1229.4 607.4 L1225.6 608.5 L1221.7 609.6 L1217.9 610.7 L1214 611.8 L1210.2 613 L1206.4 614.2 L1202.6 615.4 L1198.8 616.7 L1195 618 L1191.2 619.3 L1187.5 620.6 L1183.7 622 L1179.9 623.3 L1176.2 624.7 L1172.5 626.2 L1168.7 627.6 L1165 629.1 L1161.3 630.6 L1157.6 632.2 L1154 633.7 L1150.3 635.3 L1146.6 637 L1143 638.6 L1139.4 640.3 L1135.8 642 L1132.2 643.8 L1128.6 645.6 L1125 647.4 L1121.5 649.2 L1117.9 651.1 L1114.4 653 L1110.9 654.9 L1107.4 656.9 L1104 658.9 L1100.5 660.9 L1097.1 663 L1093.7 665.1 L1090.3 667.2 L1086.9 669.3 L1083.6 671.5 L1080.2 673.7 L1076.9 676 L1073.7 678.3 L1070.4 680.6 L1067.1 682.9 L1063.9 685.3 L1060.7 687.7 L1057.6 690.1 L1054.4 692.6 L1051.3 695.1 L1048.2 697.6 L1045.1 700.2 L1042.1 702.8 L1039 705.4 L1036.1 708 L1033.1 710.7 L1030.1 713.4 L1027.2 716.2 L1024.3 718.9 L1021.5 721.7 L1018.7 724.6 L1015.9 727.4 L1013.1 730.3 L1010.4 733.2 L1007.6 736.2 L1005 739.1 L1002.3 742.1 L999.7 745.2 L997.1 748.2 L994.6 751.3 L992.1 754.4 L989.6 757.6 L987.2 760.7 L984.8 763.9 L982.4 767.2 L980.1 770.4 L977.8 773.7 L975.6 777 L973.4 780.4 L971.2 783.7 L969.1 787.1 L967 790.5 L964.9 793.9 L962.9 797.4 L961 800.9 L959.1 804.4 L957.2 807.9 L955.4 811.5 L953.6 815.1 L951.9 818.7 L950.2 822.3 L948.5 826 L946.9 829.6 L945.4 833.3 L943.9 837 L942.4 840.7 L941 844.5 L939.7 848.2 L938.4 852 L937.1 855.8 L935.9 859.6 L934.7 863.5 L933.6 867.3 L932.6 871.2 L931.6 875 L930.6 878.9 L929.7 882.8 L928.9 886.7 L928 890.6 L927.3 894.6 L926.6 898.5 L926 902.5 L925.4 906.4 L924.8 910.4 L924.3 914.3 L923.9 918.3 L923.5 922.3 L923.2 926.3 L922.9 930.3 L922.6 934.3 L922.5 938.3 L922.3 942.2 L922.2 946.2 L922.2 950.2 L922.2 954.2 L922.3 958.2 L922.4 962.2 L922.6 966.2 L922.8 970.2 L923.1 974.2 L923.4 978.2 L923.7 982.2 L924.1 986.2 L924.6 990.1 L925 994.1 L925.6 998.1 L926.2 1002 L926.8 1006 L927.4 1009.9 L928.1 1013.9 L928.9 1017.8 L929.7 1021.7 L930.5 1025.6 L931.4 1029.5 L932.3 1033.4 L933.2 1037.3 L934.2 1041.2 L935.2 1045.1 L936.3 1048.9 L937.4 1052.8 L938.5 1056.6 L939.7 1060.4 L940.9 1064.2 L942.1 1068 L943.4 1071.8 L944.7 1075.6 L946 1079.4 L947.4 1083.1 L948.8 1086.9 L950.3 1090.6 L951.7 1094.3 L953.3 1098 L954.8 1101.7 L956.4 1105.4 L958 1109 L959.6 1112.7 L961.3 1116.3 L963 1120 L964.7 1123.6 L966.5 1127.1 L968.3 1130.7 L970.1 1134.3 L971.9 1137.8 L973.8 1141.4 L975.7 1144.9 L977.6 1148.4 L979.6 1151.9 L981.5 1155.4 L983.6 1158.8 L985.6 1162.3 L987.6 1165.7 L989.7 1169.1 L991.8 1172.5 L994 1175.9 L996.1 1179.3 L998.3 1182.6 L1000.5 1186 L1002.7 1189.3 L1004.9 1192.6 L1007.2 1195.9 L1009.5 1199.2 L1011.8 1202.5 L1014.1 1205.7 L1016.5 1208.9 L1018.8 1212.2 L1021.2 1215.4 L1023.6 1218.6 L1026.1 1221.7 L1028.5 1224.9 L1031 1228 L1033.5 1231.2 L1036 1234.3 L1038.5 1237.4 L1041.1 1240.5 L1043.7 1243.5 L1046.2 1246.6 L1048.8 1249.6 L1051.5 1252.6 L1054.1 1255.6 L1056.8 1258.6 L1059.4 1261.6 L1062.1 1264.5 L1064.8 1267.5 L1067.6 1270.4 L1070.3 1273.3 L1073.1 1276.2 L1075.9 1279.1 L1078.7 1281.9 L1081.5 1284.8 L1084.3 1287.6 L1087.1 1290.4 L1090 1293.2 L1092.9 1296 L1095.7 1298.8 L1098.6 1301.5 L1101.6 1304.3 L1104.5 1307 L1107.4 1309.7 L1110.4 1312.4 L1113.4 1315.1 L1116.3 1317.7 L1119.3 1320.4 L1122.4 1323 L1125.4 1325.6 L1128.4 1328.2 L1131.5 1330.8 L1134.5 1333.4 L1137.6 1336 L1140.7 1338.5 L1143.8 1341.1 L1146.9 1343.6 L1150 1346.1 L1153.1 1348.6 L1156.2 1351.1 L1159.4 1353.5 L1162.6 1356 L1165.7 1358.4 L1168.9 1360.8 L1172.1 1363.2 L1175.3 1365.6 L1178.5 1368 L1181.8 1370.3 L1185 1372.6 L1188.3 1374.9 L1191.6 1377.2 L1194.9 1379.5 L1198.2 1381.7 L1201.5 1384 L1204.9 1386.2 L1208.2 1388.3 L1211.6 1390.5 L1215 1392.6 L1218.4 1394.7 L1221.8 1396.8 L1225.2 1398.9 L1228.6 1400.9 L1232.1 1403 L1235.5 1405 L1239 1407 L1242.5 1408.9 L1246 1410.9 L1249.5 1412.8 L1253 1414.7 L1256.5 1416.6 L1260.1 1418.4 L1263.6 1420.3 L1267.2 1422.1 L1270.8 1423.9 L1274.4 1425.7 L1277.9 1427.4 L1281.5 1429.2 L1285.2 1430.9 L1288.8 1432.6 L1292.4 1434.3 L1296 1435.9 L1299.7 1437.6 L1303.3 1439.2 L1307 1440.8 L1310.7 1442.4 L1314.4 1444 L1318 1445.5 L1321.7 1447 L1325.4 1448.5 L1329.2 1450 L1332.9 1451.5 L1336.6 1452.9 L1340.3 1454.3 L1344.1 1455.8 L1347.8 1457.1 L1351.6 1458.5 L1355.4 1459.8 L1359.1 1461.1 L1362.9 1462.4 L1366.7 1463.7 L1370.5 1465 L1374.3 1466.2 L1378.1 1467.4 L1382 1468.6 L1385.8 1469.7 L1389.6 1470.9 L1393.5 1472 L1397.3 1473.1 L1401.2 1474.1 L1405 1475.2 L1408.9 1476.2 L1412.8 1477.2 L1416.7 1478.1 L1420.5 1479.1 L1424.4 1480 L1428.3 1480.8 L1432.3 1481.7 L1436.2 1482.5 L1440.1 1483.3 L1444 1484 L1448 1484.8 L1451.9 1485.4 L1455.8 1486.1 L1459.8 1486.7 L1463.7 1487.3 L1467.7 1487.8 L1471.7 1488.3 L1475.6 1488.8 L1479.6 1489.2 L1483.6 1489.6 L1487.6 1489.9 L1491.6 1490.2 L1495.6 1490.4 L1499.6 1490.6 L1503.6 1490.7 L1507.6 1490.8 L1511.6 1490.7 L1515.6 1490.6 L1519.6 1490.5 L1523.5 1490.2 L1527.5 1489.9 L1531.5 1489.5 L1535.5 1488.9 L1539.4 1488.2 L1543.3 1487.4 L1547.2 1486.4 L1551 1485.3 L1554.8 1483.9 L1558.4 1482.3 L1561.9 1480.3 L1565.2 1478 L1568.1 1475.3 L1570.5 1472.1 L1572.2 1468.5 L1573 1464.6 L1572.8 1460.6 L1571.6 1456.8 L1569.8 1453.2 L1567.5 1449.9 L1564.9 1446.9 L1562 1444.1 L1559 1441.5 L1555.8 1439.2 L1552.4 1436.9 L1549 1434.9 L1545.5 1432.9 L1541.9 1431.2 L1538.3 1429.5 L1534.6 1428 L1530.8 1426.7 L1527 1425.5 L1523.1 1424.5 L1519.2 1423.7"/>
<polygon fill="#ff0000" stroke="#ff0000" stroke-width="1.6" stroke-linejoin="round" points="1109.7,656.1 1108.8,653.7 1146.6,622 1140.9,642.6 1159,653.9"/>
<path stroke="#ff0000" stroke-width="3" stroke-dasharray="none" d="M1110.6 654.4 L1147.9 639.9"/>
<polygon fill="#ff0000" stroke="#ff0000" stroke-width="1.6" stroke-linejoin="round" points="959.6,798.7 957.6,797.1 974.7,750.7 979.9,771.4 1001.3,772.2"/>
<path stroke="#ff0000" stroke-width="3" stroke-dasharray="none" d="M959.6 796.7 L984.7 765.6"/>
<polygon fill="#ff0000" stroke="#ff0000" stroke-width="1.6" stroke-linejoin="round" points="1383.4,580.9 1383.3,578.3 1429.5,560.7 1417.3,578.3 1430.8,594.9"/>
<path stroke="#ff0000" stroke-width="3" stroke-dasharray="none" d="M1384.9 579.6 L1424.8 578"/>
<polygon fill="#ff0000" stroke="#ff0000" stroke-width="1.6" stroke-linejoin="round" points="1758.4,595.7 1758.5,593.1 1806.2,580 1792.4,596.4 1804.2,614.2"/>
<path stroke="#ff0000" stroke-width="3" stroke-dasharray="none" d="M1760 594.5 L1799.9 596.8"/>
<polygon fill="#ff0000" stroke="#ff0000" stroke-width="1.6" stroke-linejoin="round" points="2136.2,667.4 2137,665 2186.4,663.9 2169,676.4 2176.1,696.5"/>
<path stroke="#ff0000" stroke-width="3" stroke-dasharray="none" d="M2138 666.6 L2176.2 678.6"/>
<polygon fill="#ff0000" stroke="#ff0000" stroke-width="1.6" stroke-linejoin="round" points="935.6,1046.9 933.1,1047.6 905.1,1006.9 925.1,1014.6 938,997.6"/>
<path stroke="#ff0000" stroke-width="3" stroke-dasharray="none" d="M933.9 1045.8 L923 1007.3"/>
<polygon fill="#ff0000" stroke="#ff0000" stroke-width="1.6" stroke-linejoin="round" points="2678.6,833 2679.6,830.6 2728.9,834 2710.5,844.9 2715.7,865.6"/>
<path stroke="#ff0000" stroke-width="3" stroke-dasharray="none" d="M2680.5 832.3 L2717.4 847.8"/>
<polygon fill="#ff0000" stroke="#ff0000" stroke-width="1.6" stroke-linejoin="round" points="3109.1,995.7 3110.2,993.3 3159.4,997.2 3140.9,1007.9 3145.9,1028.6"/>
<path stroke="#ff0000" stroke-width="3" stroke-dasharray="none" d="M3111 995.1 L3147.8 1010.8"/>
<path stroke="#000000" stroke-dasharray="28 5.3 14.47 5.3" d="M3373.3 1016.5 L3369.6 1014.9 L3365.9 1013.4 L3362.2 1011.9 L3358.5 1010.3 L3354.8 1008.8 L3351.1 1007.3 L3347.4 1005.7 L3343.7 1004.2 L3340 1002.7 L3336.3 1001.1 L3332.6 999.6 L3328.9 998.1 L3325.2 996.6 L3321.5 995 L3317.8 993.5 L3314.1 992 L3310.4 990.5 L3306.7 989 L3303 987.5 L3299.3 986 L3295.6 984.5 L3291.9 983 L3288.2 981.5 L3284.5 980 L3280.8 978.5 L3277.1 977 L3273.4 975.5 L3269.7 974 L3265.9 972.5 L3262.2 971 L3258.5 969.5 L3254.8 968 L3251.1 966.5 L3247.4 965.1 L3243.7 963.6 L3239.9 962.1 L3236.2 960.6 L3232.5 959.2 L3228.8 957.7 L3225.1 956.2 L3221.4 954.8 L3217.6 953.3 L3213.9 951.8 L3210.2 950.4 L3206.5 948.9 L3202.8 947.4 L3199 946 L3195.3 944.5 L3191.6 943 L3187.9 941.6 L3184.1 940.1 L3180.4 938.6 L3176.7 937.2 L3173 935.7 L3169.3 934.2 L3165.5 932.8 L3161.8 931.3 L3158.1 929.8 L3154.4 928.3 L3150.7 926.9 L3147 925.4 L3143.2 923.9 L3139.5 922.4 L3135.8 921 L3132.1 919.5 L3128.4 918 L3124.7 916.5 L3120.9 915 L3117.2 913.6 L3113.5 912.1 L3109.8 910.6 L3106.1 909.1 L3102.4 907.6 L3098.7 906.1 L3094.9 904.7 L3091.2 903.2 L3087.5 901.7 L3083.8 900.2 L3080.1 898.7 L3076.4 897.2 L3072.7 895.7 L3069 894.3 L3065.2 892.8 L3061.5 891.3 L3057.8 889.8 L3054.1 888.3 L3050.4 886.8 L3046.7 885.3 L3043 883.8 L3039.3 882.4 L3035.5 880.9 L3031.8 879.4 L3028.1 877.9 L3024.4 876.4 L3020.7 874.9 L3017 873.4 L3013.3 871.9 L3009.6 870.4 L3005.9 868.9 L3002.1 867.4 L2998.4 866 L2994.7 864.5 L2991 863 L2987.3 861.5 L2983.6 860 L2979.9 858.5 L2976.2 857 L2972.5 855.5 L2968.8 854 L2965.1 852.5 L2961.4 851 L2957.6 849.5 L2953.9 848 L2950.2 846.5 L2946.5 845 L2942.8 843.5 L2939.1 842 L2935.4 840.5 L2931.7 839 L2928 837.5 L2924.3 836 L2920.6 834.5 L2916.8 833.1 L2913.1 831.6 L2909.4 830.1 L2905.7 828.6 L2902 827.1 L2898.3 825.7 L2894.5 824.2 L2890.8 822.7 L2887.1 821.3 L2883.4 819.8 L2879.6 818.4 L2875.9 816.9 L2872.2 815.5 L2868.5 814 L2864.7 812.6 L2861 811.1 L2857.3 809.7 L2853.5 808.3 L2849.8 806.9 L2846 805.4 L2842.3 804 L2838.6 802.6 L2834.8 801.2 L2831.1 799.8 L2827.3 798.4 L2823.6 797 L2819.8 795.6 L2816.1 794.3 L2812.3 792.9 L2808.6 791.5 L2804.8 790.1 L2801.1 788.8 L2797.3 787.4 L2793.5 786 L2789.8 784.7 L2786 783.3 L2782.2 782 L2778.5 780.6 L2774.7 779.3 L2770.9 777.9 L2767.2 776.6 L2763.4 775.3 L2759.6 773.9 L2755.9 772.6 L2752.1 771.3 L2748.3 770 L2744.5 768.6 L2740.8 767.3 L2737 766 L2733.2 764.7 L2729.4 763.4 L2725.7 762.1 L2721.9 760.8 L2718.1 759.5 L2714.3 758.2 L2710.5 756.9 L2706.7 755.6 L2703 754.3 L2699.2 753 L2695.4 751.7 L2691.6 750.4 L2687.8 749.2 L2684 747.9 L2680.2 746.6 L2676.4 745.3 L2672.6 744.1 L2668.9 742.8 L2665.1 741.5 L2661.3 740.2 L2657.5 739 L2653.7 737.7 L2649.9 736.5 L2646.1 735.2 L2642.3 734 L2638.5 732.7 L2634.7 731.5 L2630.9 730.2 L2627.1 729 L2623.3 727.7 L2619.5 726.5 L2615.7 725.2 L2611.9 724 L2608.1 722.8 L2604.3 721.5 L2600.5 720.3 L2596.7 719.1 L2592.9 717.8 L2589.1 716.6 L2585.2 715.4 L2581.4 714.2 L2577.6 713 L2573.8 711.7 L2570 710.5 L2566.2 709.3 L2562.4 708.1 L2558.6 706.9 L2554.8 705.7 L2550.9 704.5 L2547.1 703.3 L2543.3 702.1 L2539.5 700.9 L2535.7 699.7 L2531.9 698.5 L2528 697.3 L2524.2 696.1 L2520.4 695 L2516.6 693.8 L2512.8 692.6 L2508.9 691.4 L2505.1 690.3 L2501.3 689.1 L2497.5 687.9 L2493.6 686.7 L2489.8 685.6 L2486 684.4 L2482.2 683.2 L2478.3 682.1 L2474.5 680.9 L2470.7 679.8 L2466.9 678.6 L2463 677.5 L2459.2 676.3 L2455.4 675.2 L2451.5 674 L2447.7 672.9 L2443.9 671.7 L2440 670.6 L2436.2 669.4 L2432.4 668.3 L2428.5 667.2 L2424.7 666 L2420.9 664.9 L2417 663.8 L2413.2 662.6 L2409.4 661.5 L2405.5 660.4 L2401.7 659.2 L2397.8 658.1 L2394 657 L2390.2 655.9 L2386.3 654.8 L2382.5 653.6 L2378.7 652.5 L2374.8 651.4 L2371 650.3 L2367.1 649.2 L2363.3 648.1 L2359.4 646.9 L2355.6 645.8 L2351.8 644.7 L2347.9 643.6 L2344.1 642.5 L2340.2 641.4 L2336.4 640.3 L2332.5 639.2 L2328.7 638.1 L2324.9 637 L2321 635.9 L2317.2 634.8 L2313.3 633.7 L2309.5 632.6 L2305.6 631.5 L2301.8 630.4 L2297.9 629.3 L2294.1 628.2 L2290.2 627.1 L2286.4 626.1 L2282.5 625 L2278.7 623.9 L2274.8 622.8 L2271 621.7 L2267.1 620.6 L2263.3 619.6 L2259.4 618.5 L2255.6 617.4 L2251.7 616.3 L2247.9 615.3 L2244 614.2 L2240.2 613.1 L2236.3 612 L2232.5 611 L2228.6 609.9 L2224.8 608.9 L2220.9 607.8 L2217 606.7 L2213.2 605.7 L2209.3 604.6 L2205.5 603.6 L2201.6 602.6 L2197.7 601.5 L2193.9 600.5 L2190 599.4 L2186.2 598.4 L2182.3 597.4 L2178.4 596.4 L2174.6 595.3 L2170.7 594.3 L2166.8 593.3 L2163 592.3 L2159.1 591.3 L2155.2 590.3 L2151.3 589.3 L2147.5 588.3 L2143.6 587.3 L2139.7 586.3 L2135.8 585.4 L2131.9 584.4 L2128.1 583.4 L2124.2 582.5 L2120.3 581.5 L2116.4 580.6 L2112.5 579.6 L2108.6 578.7 L2104.8 577.7 L2100.9 576.8 L2097 575.9 L2093.1 575 L2089.2 574 L2085.3 573.1 L2081.4 572.2 L2077.5 571.3 L2073.6 570.4 L2069.7 569.5 L2065.8 568.7 L2061.9 567.8 L2058 566.9 L2054.1 566 L2050.2 565.2 L2046.3 564.3 L2042.4 563.5 L2038.5 562.6 L2034.6 561.8 L2030.7 560.9 L2026.7 560.1 L2022.8 559.3 L2018.9 558.4 L2015 557.6 L2011.1 556.8 L2007.2 556 L2003.3 555.2 L1999.3 554.4 L1995.4 553.6 L1991.5 552.8 L1987.6 552 L1983.7 551.2 L1979.7 550.5 L1975.8 549.7 L1971.9 548.9 L1968 548.2 L1964 547.4 L1960.1 546.6 L1956.2 545.9 L1952.2 545.2 L1948.3 544.4 L1944.4 543.7 L1940.5 542.9 L1936.5 542.2 L1932.6 541.5 L1928.7 540.8 L1924.7 540 L1920.8 539.3 L1916.9 538.6 L1912.9 537.9 L1909 537.2 L1905 536.5 L1901.1 535.8 L1897.2 535.1 L1893.2 534.5 L1889.3 533.8 L1885.3 533.1 L1881.4 532.4 L1877.5 531.8 L1873.5 531.1 L1869.6 530.5 L1865.6 529.8 L1861.7 529.1 L1857.7 528.5 L1853.8 527.9 L1849.8 527.2 L1845.9 526.6 L1841.9 526 L1838 525.3 L1834 524.7 L1830.1 524.1 L1826.1 523.5 L1822.2 522.9 L1818.2 522.3 L1814.3 521.7 L1810.3 521.1 L1806.4 520.5 L1802.4 519.9 L1798.4 519.4 L1794.5 518.8 L1790.5 518.2 L1786.6 517.7 L1782.6 517.1 L1778.6 516.6 L1774.7 516 L1770.7 515.5 L1766.7 515 L1762.8 514.4 L1758.8 513.9 L1754.9 513.4 L1750.9 512.9 L1746.9 512.4 L1742.9 511.9 L1739 511.4 L1735 510.9 L1731 510.5 L1727.1 510 L1723.1 509.5 L1719.1 509.1 L1715.1 508.6 L1711.2 508.2 L1707.2 507.8 L1703.2 507.3 L1699.2 506.9 L1695.3 506.5 L1691.3 506.1 L1687.3 505.7 L1683.3 505.3 L1679.3 504.9 L1675.4 504.6 L1671.4 504.2 L1667.4 503.8 L1663.4 503.5 L1659.4 503.2 L1655.4 502.8 L1651.5 502.5 L1647.5 502.2 L1643.5 501.9 L1639.5 501.6 L1635.5 501.3 L1631.5 501 L1627.5 500.7 L1623.5 500.5 L1619.5 500.2 L1615.6 499.9 L1611.6 499.7 L1607.6 499.5 L1603.6 499.2 L1599.6 499 L1595.6 498.8 L1591.6 498.6 L1587.6 498.4 L1583.6 498.3 L1579.6 498.1 L1575.6 497.9 L1571.6 497.8 L1567.6 497.6 L1563.6 497.5 L1559.6 497.4 L1555.6 497.3 L1551.6 497.2 L1547.6 497.1 L1543.6 497 L1539.6 496.9 L1535.6 496.8 L1531.6 496.8 L1527.6 496.7 L1523.6 496.7 L1519.6 496.7 L1515.6 496.7 L1511.6 496.7 L1507.6 496.7 L1503.6 496.7 L1499.6 496.7 L1495.6 496.7 L1491.6 496.8 L1487.7 496.8 L1483.7 496.9 L1479.7 497 L1475.7 497.1 L1471.7 497.2 L1467.7 497.3 L1463.7 497.4 L1459.7 497.5 L1455.7 497.7 L1451.7 497.9 L1447.7 498 L1443.7 498.2 L1439.7 498.4 L1435.7 498.6 L1431.7 498.8 L1427.7 499 L1423.7 499.3 L1419.7 499.5 L1415.7 499.8 L1411.7 500.1 L1407.8 500.4 L1403.8 500.7 L1399.8 501 L1395.8 501.3 L1391.8 501.6 L1387.8 502 L1383.8 502.4 L1379.9 502.7 L1375.9 503.1 L1371.9 503.5 L1367.9 503.9 L1363.9 504.4 L1360 504.8 L1356 505.3 L1352 505.7 L1348.1 506.2 L1344.1 506.7 L1340.1 507.2 L1336.2 507.7 L1332.2 508.3 L1328.2 508.8 L1324.3 509.4 L1320.3 510 L1316.4 510.6 L1312.4 511.2 L1308.5 511.8 L1304.5 512.4 L1300.6 513.1 L1296.6 513.7 L1292.7 514.4 L1288.7 515.1 L1284.8 515.8 L1280.9 516.5 L1276.9 517.3 L1273 518 L1269.1 518.8 L1265.2 519.6 L1261.2 520.4 L1257.3 521.2 L1253.4 522 L1249.5 522.8 L1245.6 523.7 L1241.7 524.6 L1237.8 525.5 L1233.9 526.4 L1230 527.3 L1226.1 528.3 L1222.3 529.2 L1218.4 530.2 L1214.5 531.2 L1210.6 532.2 L1206.8 533.3 L1202.9 534.3 L1199.1 535.4 L1195.2 536.5 L1191.4 537.6 L1187.6 538.8 L1183.7 539.9 L1179.9 541.1 L1176.1 542.3 L1172.3 543.5 L1168.5 544.8 L1164.7 546.1 L1160.9 547.4 L1157.1 548.7 L1153.4 550 L1149.6 551.4 L1145.9 552.8 L1142.1 554.2 L1138.4 555.6 L1134.7 557.1 L1131 558.6 L1127.3 560.1 L1123.6 561.7 L1119.9 563.3 L1116.2 564.9 L1112.6 566.5 L1109 568.2 L1105.3 569.9 L1101.7 571.6 L1098.1 573.3 L1094.5 575.1 L1091 576.9 L1087.4 578.8 L1083.9 580.7 L1080.4 582.6 L1076.9 584.5 L1073.4 586.5 L1069.9 588.5 L1066.5 590.5 L1063.1 592.6 L1059.7 594.7 L1056.3 596.8 L1052.9 599 L1049.6 601.2 L1046.3 603.4 L1043 605.7 L1039.7 608 L1036.5 610.3 L1033.2 612.7 L1030 615.1 L1026.9 617.5 L1023.7 620 L1020.6 622.5 L1017.5 625 L1014.5 627.6 L1011.4 630.2 L1008.4 632.8 L1005.5 635.5 L1002.5 638.2 L999.6 641 L996.7 643.7 L993.9 646.5 L991 649.4 L988.2 652.2 L985.5 655.1 L982.8 658.1 L980.1 661 L977.4 664 L974.8 667 L972.2 670.1 L969.6 673.1 L967.1 676.2 L964.6 679.4 L962.1 682.5 L959.7 685.7 L957.3 688.9 L954.9 692.1 L952.6 695.3 L950.3 698.6 L948 701.9 L945.7 705.2 L943.5 708.5 L941.3 711.9 L939.2 715.3 L937.1 718.6 L935 722.1 L933 725.5 L931 729 L929 732.4 L927 735.9 L925.1 739.4 L923.2 743 L921.4 746.5 L919.6 750.1 L917.8 753.7 L916.1 757.3 L914.4 760.9 L912.8 764.6 L911.2 768.2 L909.6 771.9 L908.1 775.6 L906.6 779.3 L905.1 783 L903.7 786.8 L902.3 790.5 L901 794.3 L899.7 798.1 L898.5 801.9 L897.3 805.7 L896.1 809.5 L895 813.4 L894 817.2 L892.9 821.1 L892 825 L891 828.9 L890.2 832.8 L889.3 836.7 L888.5 840.6 L887.8 844.5 L887.1 848.5 L886.4 852.4 L885.8 856.4 L885.3 860.3 L884.7 864.3 L884.3 868.3 L883.8 872.2 L883.5 876.2 L883.1 880.2 L882.8 884.2 L882.6 888.2 L882.4 892.2 L882.3 896.2 L882.2 900.2 L882.1 904.2 L882.1 908.2 L882.1 912.2 L882.2 916.2 L882.3 920.2 L882.5 924.2 L882.6 928.2 L882.9 932.1 L883.2 936.1 L883.5 940.1 L883.8 944.1 L884.2 948.1 L884.7 952.1 L885.2 956 L885.7 960 L886.2 964 L886.8 967.9 L887.4 971.9 L888.1 975.8 L888.8 979.7 L889.5 983.7 L890.3 987.6 L891.1 991.5 L891.9 995.4 L892.8 999.3 L893.7 1003.2 L894.6 1007.1 L895.6 1011 L896.6 1014.9 L897.6 1018.7 L898.7 1022.6 L899.8 1026.4 L900.9 1030.3 L902.1 1034.1 L903.3 1037.9 L904.5 1041.7 L905.8 1045.5 L907 1049.3 L908.4 1053.1 L909.7 1056.8 L911.1 1060.6 L912.5 1064.3 L913.9 1068.1 L915.4 1071.8 L916.9 1075.5 L918.4 1079.2 L920 1082.9 L921.6 1086.6 L923.2 1090.2 L924.8 1093.9 L926.5 1097.5 L928.2 1101.1 L929.9 1104.7 L931.6 1108.3 L933.4 1111.9 L935.2 1115.5 L937 1119 L938.9 1122.6 L940.8 1126.1 L942.7 1129.6 L944.6 1133.1 L946.6 1136.6 L948.6 1140.1 L950.6 1143.6 L952.6 1147 L954.6 1150.4 L956.7 1153.8 L958.8 1157.3 L960.9 1160.6 L963.1 1164 L965.3 1167.4 L967.4 1170.7 L969.7 1174.1 L971.9 1177.4 L974.1 1180.7 L976.4 1184 L978.7 1187.2 L981 1190.5 L983.4 1193.7 L985.7 1197 L988.1 1200.2 L990.5 1203.4 L992.9 1206.6 L995.3 1209.8 L997.8 1212.9 L1000.3 1216.1 L1002.8 1219.2 L1005.3 1222.3 L1007.8 1225.4 L1010.3 1228.5 L1012.9 1231.6 L1015.5 1234.6 L1018.1 1237.7 L1020.7 1240.7 L1023.3 1243.7 L1026 1246.7 L1028.6 1249.7 L1031.3 1252.6 L1034 1255.6 L1036.7 1258.5 L1039.5 1261.5 L1042.2 1264.4 L1045 1267.2 L1047.8 1270.1 L1050.5 1273 L1053.4 1275.8 L1056.2 1278.7 L1059 1281.5 L1061.9 1284.3 L1064.8 1287.1 L1067.6 1289.8 L1070.5 1292.6 L1073.5 1295.3 L1076.4 1298 L1079.3 1300.7 L1082.3 1303.4 L1085.3 1306.1 L1088.2 1308.8 L1091.2 1311.4 L1094.3 1314 L1097.3 1316.7 L1100.3 1319.3 L1103.4 1321.9 L1106.4 1324.4 L1109.5 1327 L1112.6 1329.5 L1115.7 1332 L1118.8 1334.6 L1121.9 1337.1 L1125.1 1339.5 L1128.2 1342 L1131.4 1344.5 L1134.6 1346.9 L1137.7 1349.3 L1140.9 1351.7 L1144.1 1354.1 L1147.4 1356.5 L1150.6 1358.8 L1153.8 1361.2 L1157.1 1363.5 L1160.3 1365.8 L1163.6 1368.1 L1166.9 1370.4 L1170.2 1372.6 L1173.5 1374.9 L1176.8 1377.1 L1180.2 1379.3 L1183.5 1381.5 L1186.9 1383.7 L1190.3 1385.8 L1193.6 1387.9 L1197 1390.1 L1200.5 1392.1 L1203.9 1394.2 L1207.3 1396.3 L1210.7 1398.3 L1214.2 1400.3 L1217.7 1402.3 L1221.1 1404.3 L1224.6 1406.3 L1228.1 1408.2 L1231.6 1410.2 L1235.1 1412.1 L1238.6 1414 L1242.2 1415.8 L1245.7 1417.7 L1249.3 1419.5 L1252.8 1421.4 L1256.4 1423.2 L1260 1424.9 L1263.6 1426.7 L1267.2 1428.4 L1270.8 1430.2 L1274.4 1431.9 L1278 1433.6 L1281.6 1435.3 L1285.3 1436.9 L1288.9 1438.6 L1292.6 1440.2 L1296.3 1441.8 L1299.9 1443.4 L1303.6 1444.9 L1307.3 1446.5 L1311 1448 L1314.7 1449.5 L1318.4 1451 L1322.1 1452.5 L1325.9 1453.9 L1329.6 1455.3 L1333.3 1456.7 L1337.1 1458.1 L1340.8 1459.5 L1344.6 1460.9 L1348.4 1462.2 L1352.2 1463.5 L1355.9 1464.8 L1359.7 1466 L1363.5 1467.3 L1367.3 1468.5 L1371.2 1469.7 L1375 1470.9 L1378.8 1472.1 L1382.6 1473.2 L1386.5 1474.3 L1390.3 1475.4 L1394.2 1476.5 L1398 1477.5 L1401.9 1478.5 L1405.8 1479.5 L1409.7 1480.5 L1413.6 1481.4 L1417.4 1482.4 L1421.3 1483.2 L1425.2 1484.1 L1429.2 1484.9 L1433.1 1485.7 L1437 1486.5 L1440.9 1487.3 L1444.9 1488 L1448.8 1488.7 L1452.7 1489.3 L1456.7 1489.9 L1460.7 1490.5 L1464.6 1491.1 L1468.6 1491.6 L1472.6 1492.1 L1476.5 1492.5 L1480.5 1492.9 L1484.5 1493.2 L1488.5 1493.5 L1492.5 1493.8 L1496.5 1494 L1500.5 1494.1 L1504.5 1494.2 L1508.5 1494.3 L1512.5 1494.2 L1516.5 1494.1 L1520.5 1494 L1524.4 1493.7 L1528.4 1493.4 L1532.4 1492.9 L1536.4 1492.4 L1540.3 1491.8 L1544.2 1491 L1548.1 1490 L1552 1488.9 L1555.8 1487.7 L1559.5 1486.1 L1563 1484.4 L1566.4 1482.3 L1569.6 1479.8 L1572.3 1476.9 L1574.5 1473.6 L1576 1469.9 L1576.6 1465.9 L1576.2 1461.9 L1575 1458.1 L1573.2 1454.6 L1570.9 1451.3 L1568.3 1448.3 L1565.5 1445.4 L1562.5 1442.8 L1559.3 1440.4 L1556 1438.1 L1552.6 1436 L1549.2 1434 L1545.6 1432.1 L1542 1430.4 L1538.3 1428.8 L1534.6 1427.4 L1530.8 1426.1 L1527 1424.9 L1523.1 1423.9 L1519.2 1423.1"/>
<polygon fill="#000000" stroke="#000000" stroke-width="1.6" stroke-linejoin="round" points="1217.7,532.1 1217.4,529.5 1261.8,508 1251.3,526.6 1266.1,541.9"/>
<path stroke="#000000" stroke-width="3" stroke-dasharray="none" d="M1219 530.6 L1258.7 525.6"/>
<polygon fill="#000000" stroke="#000000" stroke-width="1.6" stroke-linejoin="round" points="951.6,696.4 949.8,694.5 972.5,650.6 975.1,671.8 996.2,675.2"/>
<path stroke="#000000" stroke-width="3" stroke-dasharray="none" d="M951.8 694.4 L980.5 666.6"/>
<polygon fill="#000000" stroke="#000000" stroke-width="1.6" stroke-linejoin="round" points="1566,499.3 1566.2,496.7 1614.2,485 1600,501 1611.2,519.1"/>
<path stroke="#000000" stroke-width="3" stroke-dasharray="none" d="M1567.6 498.2 L1607.4 501.6"/>
<polygon fill="#000000" stroke="#000000" stroke-width="1.6" stroke-linejoin="round" points="2020,555.1 2020.6,552.5 2069.8,547.8 2053.5,561.5 2062,581.1"/>
<path stroke="#000000" stroke-width="3" stroke-dasharray="none" d="M2021.8 554.2 L2060.8 563.2"/>
<polygon fill="#000000" stroke="#000000" stroke-width="1.6" stroke-linejoin="round" points="2504.7,686.7 2505.6,684.3 2555,684.7 2537.2,696.7 2543.7,717"/>
<path stroke="#000000" stroke-width="3" stroke-dasharray="none" d="M2506.6 686 L2544.3 699.1"/>
<polygon fill="#000000" stroke="#000000" stroke-width="1.6" stroke-linejoin="round" points="883.2,888.7 880.6,888.5 868.5,840.6 884.6,854.7 902.6,843.2"/>
<path stroke="#000000" stroke-width="3" stroke-dasharray="none" d="M882 887.1 L885.2 847.2"/>
<polygon fill="#000000" stroke="#000000" stroke-width="1.6" stroke-linejoin="round" points="3043.5,882.3 3044.5,879.9 3093.8,883 3075.4,894 3080.8,914.6"/>
<path stroke="#000000" stroke-width="3" stroke-dasharray="none" d="M3045.4 881.6 L3082.4 896.8"/>
<polygon fill="#000000" stroke="#000000" stroke-width="1.6" stroke-linejoin="round" points="3278.4,978.3 3279.5,976 3328.6,981 3309.9,991.3 3314.4,1012.1"/>
<path stroke="#000000" stroke-width="3" stroke-dasharray="none" d="M3280.3 977.8 L3316.7 994.4"/>
<path stroke="#d95319" stroke-dasharray="27.8 25.27" d="M3139.2 823.9 L3135.4 822.5 L3131.7 821 L3128 819.6 L3124.3 818.1 L3120.6 816.7 L3116.8 815.2 L3113.1 813.8 L3109.4 812.3 L3105.7 810.9 L3101.9 809.4 L3098.2 808 L3094.5 806.5 L3090.8 805.1 L3087 803.6 L3083.3 802.2 L3079.6 800.7 L3075.8 799.3 L3072.1 797.9 L3068.4 796.4 L3064.7 795 L3060.9 793.5 L3057.2 792.1 L3053.5 790.7 L3049.7 789.2 L3046 787.8 L3042.3 786.3 L3038.6 784.9 L3034.8 783.5 L3031.1 782 L3027.4 780.6 L3023.6 779.2 L3019.9 777.7 L3016.2 776.3 L3012.4 774.9 L3008.7 773.4 L3005 772 L3001.3 770.6 L2997.5 769.1 L2993.8 767.7 L2990.1 766.3 L2986.3 764.8 L2982.6 763.4 L2978.9 762 L2975.1 760.6 L2971.4 759.1 L2967.7 757.7 L2963.9 756.3 L2960.2 754.9 L2956.4 753.4 L2952.7 752 L2949 750.6 L2945.2 749.2 L2941.5 747.8 L2937.8 746.4 L2934 744.9 L2930.3 743.5 L2926.5 742.1 L2922.8 740.7 L2919.1 739.3 L2915.3 737.9 L2911.6 736.5 L2907.8 735.1 L2904.1 733.7 L2900.3 732.3 L2896.6 730.9 L2892.9 729.5 L2889.1 728.1 L2885.4 726.7 L2881.6 725.3 L2877.9 724 L2874.1 722.6 L2870.4 721.2 L2866.6 719.8 L2862.9 718.4 L2859.1 717.1 L2855.4 715.7 L2851.6 714.3 L2847.8 712.9 L2844.1 711.6 L2840.3 710.2 L2836.6 708.8 L2832.8 707.5 L2829.1 706.1 L2825.3 704.8 L2821.5 703.4 L2817.8 702.1 L2814 700.7 L2810.3 699.4 L2806.5 698 L2802.7 696.7 L2799 695.3 L2795.2 694 L2791.4 692.7 L2787.7 691.3 L2783.9 690 L2780.1 688.7 L2776.3 687.4 L2772.6 686.1 L2768.8 684.7 L2765 683.4 L2761.2 682.1 L2757.5 680.8 L2753.7 679.5 L2749.9 678.2 L2746.1 676.9 L2742.3 675.6 L2738.6 674.3 L2734.8 673 L2731 671.7 L2727.2 670.4 L2723.4 669.2 L2719.6 667.9 L2715.9 666.6 L2712.1 665.3 L2708.3 664.1 L2704.5 662.8 L2700.7 661.5 L2696.9 660.2 L2693.1 659 L2689.3 657.7 L2685.5 656.5 L2681.7 655.2 L2677.9 653.9 L2674.2 652.7 L2670.4 651.4 L2666.6 650.2 L2662.8 648.9 L2659 647.7 L2655.2 646.4 L2651.4 645.2 L2647.6 643.9 L2643.8 642.7 L2640 641.4 L2636.2 640.2 L2632.4 638.9 L2628.6 637.7 L2624.8 636.5 L2621 635.2 L2617.2 634 L2613.4 632.8 L2609.6 631.5 L2605.8 630.3 L2602 629 L2598.2 627.8 L2594.4 626.6 L2590.6 625.4 L2586.8 624.1 L2583 622.9 L2579.2 621.7 L2575.4 620.4 L2571.6 619.2 L2567.8 618 L2564 616.8 L2560.1 615.5 L2556.3 614.3 L2552.5 613.1 L2548.7 611.9 L2544.9 610.7 L2541.1 609.4 L2537.3 608.2 L2533.5 607 L2529.7 605.8 L2525.9 604.6 L2522.1 603.4 L2518.3 602.1 L2514.5 600.9 L2510.6 599.7 L2506.8 598.5 L2503 597.3 L2499.2 596.1 L2495.4 594.9 L2491.6 593.7 L2487.8 592.5 L2484 591.3 L2480.1 590.1 L2476.3 588.9 L2472.5 587.7 L2468.7 586.6 L2464.9 585.4 L2461.1 584.2 L2457.2 583 L2453.4 581.8 L2449.6 580.7 L2445.8 579.5 L2442 578.3 L2438.1 577.2 L2434.3 576 L2430.5 574.8 L2426.7 573.7 L2422.8 572.5 L2419 571.4 L2415.2 570.2 L2411.4 569.1 L2407.5 567.9 L2403.7 566.8 L2399.9 565.6 L2396 564.5 L2392.2 563.4 L2388.4 562.2 L2384.5 561.1 L2380.7 560 L2376.9 558.9 L2373 557.7 L2369.2 556.6 L2365.4 555.5 L2361.5 554.4 L2357.7 553.3 L2353.8 552.2 L2350 551.1 L2346.1 550 L2342.3 548.9 L2338.5 547.8 L2334.6 546.7 L2330.8 545.6 L2326.9 544.6 L2323.1 543.5 L2319.2 542.4 L2315.4 541.3 L2311.5 540.3 L2307.7 539.2 L2303.8 538.1 L2300 537.1 L2296.1 536 L2292.2 535 L2288.4 533.9 L2284.5 532.9 L2280.7 531.8 L2276.8 530.8 L2273 529.7 L2269.1 528.7 L2265.2 527.7 L2261.4 526.7 L2257.5 525.6 L2253.6 524.6 L2249.8 523.6 L2245.9 522.6 L2242 521.6 L2238.2 520.6 L2234.3 519.5 L2230.4 518.5 L2226.6 517.5 L2222.7 516.5 L2218.8 515.6 L2215 514.6 L2211.1 513.6 L2207.2 512.6 L2203.3 511.6 L2199.5 510.6 L2195.6 509.7 L2191.7 508.7 L2187.8 507.7 L2183.9 506.8 L2180.1 505.8 L2176.2 504.9 L2172.3 503.9 L2168.4 503 L2164.5 502 L2160.6 501.1 L2156.8 500.1 L2152.9 499.2 L2149 498.3 L2145.1 497.3 L2141.2 496.4 L2137.3 495.5 L2133.4 494.6 L2129.5 493.7 L2125.7 492.8 L2121.8 491.8 L2117.9 490.9 L2114 490 L2110.1 489.1 L2106.2 488.2 L2102.3 487.4 L2098.4 486.5 L2094.5 485.6 L2090.6 484.7 L2086.7 483.8 L2082.8 483 L2078.9 482.1 L2075 481.2 L2071.1 480.4 L2067.2 479.5 L2063.3 478.6 L2059.4 477.8 L2055.5 476.9 L2051.6 476.1 L2047.7 475.3 L2043.7 474.4 L2039.8 473.6 L2035.9 472.8 L2032 471.9 L2028.1 471.1 L2024.2 470.3 L2020.3 469.5 L2016.4 468.7 L2012.5 467.9 L2008.5 467.1 L2004.6 466.3 L2000.7 465.5 L1996.8 464.7 L1992.9 463.9 L1988.9 463.1 L1985 462.3 L1981.1 461.6 L1977.2 460.8 L1973.3 460 L1969.3 459.3 L1965.4 458.5 L1961.5 457.8 L1957.6 457 L1953.6 456.3 L1949.7 455.5 L1945.8 454.8 L1941.8 454.1 L1937.9 453.3 L1934 452.6 L1930.1 451.9 L1926.1 451.2 L1922.2 450.5 L1918.3 449.8 L1914.3 449.1 L1910.4 448.4 L1906.4 447.7 L1902.5 447 L1898.6 446.3 L1894.6 445.6 L1890.7 445 L1886.7 444.3 L1882.8 443.6 L1878.9 443 L1874.9 442.3 L1871 441.7 L1867 441.1 L1863.1 440.4 L1859.1 439.8 L1855.2 439.2 L1851.2 438.5 L1847.3 437.9 L1843.3 437.3 L1839.4 436.7 L1835.4 436.1 L1831.5 435.5 L1827.5 434.9 L1823.6 434.3 L1819.6 433.8 L1815.7 433.2 L1811.7 432.6 L1807.8 432.1 L1803.8 431.5 L1799.8 431 L1795.9 430.4 L1791.9 429.9 L1788 429.4 L1784 428.8 L1780 428.3 L1776.1 427.8 L1772.1 427.3 L1768.1 426.8 L1764.2 426.3 L1760.2 425.8 L1756.2 425.3 L1752.3 424.8 L1748.3 424.4 L1744.3 423.9 L1740.4 423.5 L1736.4 423 L1732.4 422.6 L1728.4 422.1 L1724.5 421.7 L1720.5 421.3 L1716.5 420.8 L1712.5 420.4 L1708.6 420 L1704.6 419.6 L1700.6 419.3 L1696.6 418.9 L1692.7 418.5 L1688.7 418.1 L1684.7 417.8 L1680.7 417.4 L1676.7 417.1 L1672.7 416.7 L1668.8 416.4 L1664.8 416.1 L1660.8 415.8 L1656.8 415.4 L1652.8 415.1 L1648.8 414.8 L1644.9 414.6 L1640.9 414.3 L1636.9 414 L1632.9 413.7 L1628.9 413.5 L1624.9 413.2 L1620.9 413 L1616.9 412.8 L1612.9 412.5 L1609 412.3 L1605 412.1 L1601 411.9 L1597 411.7 L1593 411.5 L1589 411.4 L1585 411.2 L1581 411 L1577 410.9 L1573 410.7 L1569 410.6 L1565 410.5 L1561 410.3 L1557 410.2 L1553 410.1 L1549 410 L1545 410 L1541.1 409.9 L1537.1 409.8 L1533.1 409.8 L1529.1 409.7 L1525.1 409.7 L1521.1 409.6 L1517.1 409.6 L1513.1 409.6 L1509.1 409.6 L1505.1 409.6 L1501.1 409.6 L1497.1 409.6 L1493.1 409.7 L1489.1 409.7 L1485.1 409.8 L1481.1 409.8 L1477.1 409.9 L1473.1 410 L1469.1 410.1 L1465.1 410.2 L1461.1 410.3 L1457.1 410.4 L1453.1 410.6 L1449.1 410.7 L1445.1 410.9 L1441.2 411 L1437.2 411.2 L1433.2 411.4 L1429.2 411.6 L1425.2 411.8 L1421.2 412 L1417.2 412.3 L1413.2 412.5 L1409.2 412.8 L1405.2 413 L1401.2 413.3 L1397.3 413.6 L1393.3 413.9 L1389.3 414.2 L1385.3 414.5 L1381.3 414.9 L1377.3 415.2 L1373.4 415.6 L1369.4 416 L1365.4 416.4 L1361.4 416.8 L1357.5 417.2 L1353.5 417.6 L1349.5 418 L1345.5 418.5 L1341.6 419 L1337.6 419.4 L1333.6 419.9 L1329.7 420.5 L1325.7 421 L1321.8 421.5 L1317.8 422.1 L1313.8 422.6 L1309.9 423.2 L1305.9 423.8 L1302 424.4 L1298 425.1 L1294.1 425.7 L1290.1 426.4 L1286.2 427.1 L1282.3 427.8 L1278.3 428.5 L1274.4 429.2 L1270.5 429.9 L1266.6 430.7 L1262.6 431.5 L1258.7 432.3 L1254.8 433.1 L1250.9 433.9 L1247 434.8 L1243.1 435.7 L1239.2 436.5 L1235.3 437.4 L1231.4 438.4 L1227.5 439.3 L1223.7 440.3 L1219.8 441.3 L1215.9 442.3 L1212 443.3 L1208.2 444.3 L1204.3 445.4 L1200.5 446.5 L1196.6 447.6 L1192.8 448.7 L1189 449.8 L1185.2 451 L1181.3 452.2 L1177.5 453.4 L1173.7 454.6 L1169.9 455.8 L1166.1 457.1 L1162.3 458.4 L1158.6 459.7 L1154.8 461 L1151 462.4 L1147.3 463.8 L1143.5 465.2 L1139.8 466.6 L1136.1 468 L1132.4 469.5 L1128.6 471 L1124.9 472.5 L1121.2 474 L1117.6 475.6 L1113.9 477.1 L1110.2 478.7 L1106.6 480.3 L1102.9 482 L1099.3 483.7 L1095.7 485.3 L1092.1 487.1 L1088.5 488.8 L1084.9 490.6 L1081.3 492.3 L1077.7 494.1 L1074.2 496 L1070.6 497.8 L1067.1 499.7 L1063.6 501.6 L1060.1 503.6 L1056.6 505.5 L1053.1 507.5 L1049.7 509.5 L1046.2 511.5 L1042.8 513.6 L1039.4 515.7 L1036 517.8 L1032.6 519.9 L1029.3 522.1 L1025.9 524.2 L1022.6 526.5 L1019.3 528.7 L1016 531 L1012.7 533.2 L1009.5 535.6 L1006.2 537.9 L1003 540.3 L999.8 542.7 L996.6 545.1 L993.5 547.6 L990.3 550 L987.2 552.6 L984.1 555.1 L981.1 557.7 L978 560.3 L975 562.9 L972 565.5 L969.1 568.2 L966.1 570.9 L963.2 573.7 L960.3 576.4 L957.5 579.2 L954.6 582 L951.8 584.9 L949 587.7 L946.3 590.6 L943.6 593.6 L940.9 596.5 L938.2 599.5 L935.6 602.5 L933 605.6 L930.4 608.6 L927.9 611.7 L925.4 614.8 L922.9 618 L920.5 621.1 L918 624.3 L915.7 627.5 L913.3 630.8 L911 634 L908.7 637.3 L906.5 640.6 L904.3 643.9 L902.1 647.3 L899.9 650.6 L897.8 654 L895.7 657.4 L893.7 660.9 L891.7 664.3 L889.7 667.8 L887.7 671.3 L885.8 674.8 L884 678.3 L882.1 681.9 L880.3 685.4 L878.6 689 L876.8 692.6 L875.1 696.3 L873.5 699.9 L871.9 703.6 L870.3 707.2 L868.8 710.9 L867.3 714.6 L865.8 718.4 L864.4 722.1 L863 725.8 L861.7 729.6 L860.4 733.4 L859.1 737.2 L857.9 741 L856.8 744.8 L855.6 748.6 L854.5 752.5 L853.5 756.4 L852.5 760.2 L851.5 764.1 L850.6 768 L849.7 771.9 L848.9 775.8 L848.1 779.7 L847.3 783.6 L846.6 787.6 L845.9 791.5 L845.2 795.4 L844.6 799.4 L844.1 803.4 L843.6 807.3 L843.1 811.3 L842.6 815.3 L842.2 819.2 L841.9 823.2 L841.5 827.2 L841.2 831.2 L841 835.2 L840.8 839.2 L840.6 843.2 L840.4 847.1 L840.3 851.1 L840.3 855.1 L840.3 859.1 L840.3 863.1 L840.3 867.1 L840.4 871.1 L840.5 875.1 L840.6 879.1 L840.8 883.1 L841.1 887.1 L841.3 891.1 L841.6 895.1 L841.9 899.1 L842.3 903 L842.7 907 L843.1 911 L843.6 915 L844.1 918.9 L844.6 922.9 L845.1 926.8 L845.7 930.8 L846.4 934.7 L847 938.7 L847.7 942.6 L848.4 946.6 L849.2 950.5 L850 954.4 L850.8 958.3 L851.7 962.2 L852.5 966.1 L853.4 970 L854.4 973.9 L855.4 977.8 L856.4 981.6 L857.4 985.5 L858.5 989.3 L859.5 993.2 L860.7 997 L861.8 1000.9 L863 1004.7 L864.2 1008.5 L865.4 1012.3 L866.7 1016.1 L868 1019.9 L869.3 1023.6 L870.6 1027.4 L872 1031.2 L873.4 1034.9 L874.8 1038.6 L876.3 1042.4 L877.7 1046.1 L879.2 1049.8 L880.8 1053.5 L882.3 1057.2 L883.9 1060.8 L885.5 1064.5 L887.1 1068.1 L888.8 1071.8 L890.5 1075.4 L892.2 1079 L893.9 1082.6 L895.6 1086.2 L897.4 1089.8 L899.2 1093.4 L901 1096.9 L902.9 1100.5 L904.7 1104 L906.6 1107.5 L908.6 1111 L910.5 1114.5 L912.5 1118 L914.4 1121.5 L916.4 1125 L918.5 1128.4 L920.5 1131.8 L922.6 1135.2 L924.7 1138.7 L926.8 1142 L928.9 1145.4 L931.1 1148.8 L933.3 1152.1 L935.5 1155.5 L937.7 1158.8 L939.9 1162.1 L942.2 1165.4 L944.4 1168.7 L946.7 1172 L949.1 1175.2 L951.4 1178.5 L953.7 1181.7 L956.1 1184.9 L958.5 1188.1 L960.9 1191.3 L963.3 1194.5 L965.8 1197.7 L968.2 1200.8 L970.7 1203.9 L973.2 1207.1 L975.7 1210.2 L978.3 1213.3 L980.8 1216.3 L983.4 1219.4 L985.9 1222.5 L988.5 1225.5 L991.2 1228.5 L993.8 1231.5 L996.4 1234.5 L999.1 1237.5 L1001.8 1240.5 L1004.5 1243.4 L1007.2 1246.4 L1009.9 1249.3 L1012.6 1252.2 L1015.4 1255.1 L1018.1 1258 L1020.9 1260.9 L1023.7 1263.7 L1026.5 1266.6 L1029.4 1269.4 L1032.2 1272.2 L1035 1275 L1037.9 1277.8 L1040.8 1280.6 L1043.7 1283.3 L1046.6 1286.1 L1049.5 1288.8 L1052.5 1291.5 L1055.4 1294.2 L1058.4 1296.9 L1061.3 1299.6 L1064.3 1302.2 L1067.3 1304.9 L1070.3 1307.5 L1073.4 1310.1 L1076.4 1312.7 L1079.4 1315.3 L1082.5 1317.9 L1085.6 1320.4 L1088.7 1323 L1091.7 1325.5 L1094.9 1328 L1098 1330.5 L1101.1 1333 L1104.2 1335.5 L1107.4 1337.9 L1110.6 1340.4 L1113.7 1342.8 L1116.9 1345.2 L1120.1 1347.6 L1123.3 1350 L1126.6 1352.3 L1129.8 1354.7 L1133 1357 L1136.3 1359.3 L1139.6 1361.6 L1142.9 1363.9 L1146.1 1366.2 L1149.5 1368.4 L1152.8 1370.7 L1156.1 1372.9 L1159.4 1375.1 L1162.8 1377.3 L1166.1 1379.4 L1169.5 1381.6 L1172.9 1383.7 L1176.3 1385.8 L1179.7 1387.9 L1183.1 1390 L1186.5 1392.1 L1189.9 1394.1 L1193.4 1396.2 L1196.8 1398.2 L1200.3 1400.2 L1203.8 1402.2 L1207.2 1404.1 L1210.7 1406.1 L1214.2 1408 L1217.7 1409.9 L1221.3 1411.8 L1224.8 1413.7 L1228.3 1415.6 L1231.9 1417.4 L1235.4 1419.3 L1239 1421.1 L1242.5 1422.9 L1246.1 1424.7 L1249.7 1426.4 L1253.3 1428.2 L1256.9 1429.9 L1260.5 1431.6 L1264.1 1433.3 L1267.8 1435 L1271.4 1436.7 L1275 1438.3 L1278.7 1439.9 L1282.3 1441.5 L1286 1443.1 L1289.7 1444.7 L1293.4 1446.3 L1297 1447.8 L1300.7 1449.3 L1304.4 1450.8 L1308.2 1452.3 L1311.9 1453.8 L1315.6 1455.2 L1319.3 1456.7 L1323.1 1458.1 L1326.8 1459.5 L1330.6 1460.9 L1334.3 1462.2 L1338.1 1463.5 L1341.9 1464.9 L1345.6 1466.2 L1349.4 1467.4 L1353.2 1468.7 L1357 1469.9 L1360.8 1471.1 L1364.6 1472.3 L1368.5 1473.5 L1372.3 1474.7 L1376.1 1475.8 L1380 1476.9 L1383.8 1478 L1387.7 1479.1 L1391.5 1480.1 L1395.4 1481.1 L1399.3 1482.1 L1403.1 1483.1 L1407 1484.1 L1410.9 1485 L1414.8 1485.9 L1418.7 1486.8 L1422.6 1487.6 L1426.5 1488.4 L1430.4 1489.2 L1434.4 1490 L1438.3 1490.7 L1442.2 1491.4 L1446.2 1492.1 L1450.1 1492.7 L1454.1 1493.4 L1458 1493.9 L1462 1494.5 L1465.9 1495 L1469.9 1495.5 L1473.9 1495.9 L1477.8 1496.3 L1481.8 1496.7 L1485.8 1497 L1489.8 1497.3 L1493.8 1497.5 L1497.8 1497.7 L1501.8 1497.8 L1505.8 1497.9 L1509.8 1497.9 L1513.8 1497.8 L1517.8 1497.7 L1521.8 1497.5 L1525.7 1497.3 L1529.7 1496.9 L1533.7 1496.5 L1537.7 1496 L1541.6 1495.3 L1545.5 1494.6 L1549.4 1493.7 L1553.3 1492.6 L1557.1 1491.4 L1560.8 1490 L1564.4 1488.3 L1567.9 1486.3 L1571.2 1484.1 L1574.2 1481.4 L1576.8 1478.4 L1578.7 1474.9 L1580 1471.1 L1580.3 1467.1 L1579.8 1463.2 L1578.5 1459.4 L1576.6 1455.9 L1574.3 1452.6 L1571.7 1449.5 L1568.9 1446.7 L1565.9 1444 L1562.8 1441.6 L1559.6 1439.2 L1556.2 1437 L1552.8 1435 L1549.3 1433.1 L1545.7 1431.3 L1542.1 1429.6 L1538.4 1428.1 L1534.6 1426.7 L1530.8 1425.5 L1527 1424.3 L1523.1 1423.4 L1519.2 1422.6"/>
<polygon fill="#d95319" stroke="#d95319" stroke-width="1.6" stroke-linejoin="round" points="1446.5,410.5 1446.7,407.9 1494.3,394.9 1480.5,411.2 1492.3,429"/>
<path stroke="#d95319" stroke-width="3" stroke-dasharray="none" d="M1448.1 409.3 L1488 411.6"/>
<polygon fill="#d95319" stroke="#d95319" stroke-width="1.6" stroke-linejoin="round" points="1834.5,437 1835,434.4 1884,427.9 1868.2,442.2 1877.5,461.4"/>
<path stroke="#d95319" stroke-width="3" stroke-dasharray="none" d="M1836.3 436 L1875.5 443.6"/>
<polygon fill="#d95319" stroke="#d95319" stroke-width="1.6" stroke-linejoin="round" points="949.4,590.9 947.5,589.1 967.9,544.1 971.7,565.1 992.9,567.5"/>
<path stroke="#d95319" stroke-width="3" stroke-dasharray="none" d="M949.5 588.9 L976.8 559.7"/>
<polygon fill="#d95319" stroke="#d95319" stroke-width="1.6" stroke-linejoin="round" points="2249.6,522.9 2250.3,520.4 2299.7,519.5 2282.4,532 2289.4,552.1"/>
<path stroke="#d95319" stroke-width="3" stroke-dasharray="none" d="M2251.4 522.1 L2289.5 534.2"/>
<polygon fill="#d95319" stroke="#d95319" stroke-width="1.6" stroke-linejoin="round" points="2980.1,763.6 2981.1,761.2 3030.4,765 3011.9,775.7 3016.9,796.5"/>
<path stroke="#d95319" stroke-width="3" stroke-dasharray="none" d="M2982 763 L3018.8 778.7"/>
<path stroke="#ff00ff" d="M2905.2 631.2 L2901.5 629.9 L2897.7 628.5 L2893.9 627.2 L2890.2 625.8 L2886.4 624.5 L2882.6 623.1 L2878.9 621.8 L2875.1 620.4 L2871.4 619.1 L2867.6 617.7 L2863.8 616.4 L2860.1 615 L2856.3 613.7 L2852.5 612.3 L2848.8 611 L2845 609.7 L2841.2 608.3 L2837.5 607 L2833.7 605.6 L2829.9 604.3 L2826.2 603 L2822.4 601.6 L2818.6 600.3 L2814.9 599 L2811.1 597.6 L2807.3 596.3 L2803.5 595 L2799.8 593.6 L2796 592.3 L2792.2 591 L2788.5 589.6 L2784.7 588.3 L2780.9 587 L2777.1 585.7 L2773.4 584.3 L2769.6 583 L2765.8 581.7 L2762 580.4 L2758.3 579.1 L2754.5 577.8 L2750.7 576.4 L2746.9 575.1 L2743.2 573.8 L2739.4 572.5 L2735.6 571.2 L2731.8 569.9 L2728 568.6 L2724.3 567.3 L2720.5 566 L2716.7 564.7 L2712.9 563.4 L2709.1 562.1 L2705.3 560.8 L2701.6 559.5 L2697.8 558.3 L2694 557 L2690.2 555.7 L2686.4 554.4 L2682.6 553.2 L2678.8 551.9 L2675 550.6 L2671.2 549.4 L2667.4 548.1 L2663.6 546.8 L2659.8 545.6 L2656 544.3 L2652.3 543.1 L2648.5 541.8 L2644.7 540.6 L2640.8 539.4 L2637 538.1 L2633.2 536.9 L2629.4 535.7 L2625.6 534.4 L2621.8 533.2 L2618 532 L2614.2 530.8 L2610.4 529.5 L2606.6 528.3 L2602.8 527.1 L2599 525.9 L2595.2 524.7 L2591.3 523.5 L2587.5 522.3 L2583.7 521.1 L2579.9 519.9 L2576.1 518.7 L2572.3 517.6 L2568.4 516.4 L2564.6 515.2 L2560.8 514 L2557 512.9 L2553.2 511.7 L2549.3 510.5 L2545.5 509.3 L2541.7 508.2 L2537.8 507 L2534 505.9 L2530.2 504.7 L2526.4 503.6 L2522.5 502.4 L2518.7 501.3 L2514.9 500.1 L2511 499 L2507.2 497.8 L2503.4 496.7 L2499.5 495.6 L2495.7 494.4 L2491.9 493.3 L2488 492.2 L2484.2 491 L2480.4 489.9 L2476.5 488.8 L2472.7 487.7 L2468.8 486.6 L2465 485.4 L2461.2 484.3 L2457.3 483.2 L2453.5 482.1 L2449.6 481 L2445.8 479.9 L2442 478.8 L2438.1 477.7 L2434.3 476.6 L2430.4 475.5 L2426.6 474.4 L2422.7 473.3 L2418.9 472.2 L2415 471.1 L2411.2 470 L2407.4 468.9 L2403.5 467.8 L2399.7 466.7 L2395.8 465.7 L2392 464.6 L2388.1 463.5 L2384.3 462.4 L2380.4 461.3 L2376.6 460.2 L2372.7 459.2 L2368.9 458.1 L2365 457 L2361.2 456 L2357.3 454.9 L2353.5 453.8 L2349.6 452.7 L2345.7 451.7 L2341.9 450.6 L2338 449.6 L2334.2 448.5 L2330.3 447.4 L2326.5 446.4 L2322.6 445.3 L2318.8 444.3 L2314.9 443.2 L2311 442.2 L2307.2 441.1 L2303.3 440.1 L2299.5 439 L2295.6 438 L2291.7 436.9 L2287.9 435.9 L2284 434.9 L2280.2 433.8 L2276.3 432.8 L2272.4 431.8 L2268.6 430.8 L2264.7 429.7 L2260.8 428.7 L2257 427.7 L2253.1 426.7 L2249.2 425.7 L2245.4 424.6 L2241.5 423.6 L2237.6 422.6 L2233.8 421.6 L2229.9 420.6 L2226 419.6 L2222.1 418.6 L2218.3 417.7 L2214.4 416.7 L2210.5 415.7 L2206.6 414.7 L2202.8 413.7 L2198.9 412.8 L2195 411.8 L2191.1 410.8 L2187.2 409.9 L2183.3 408.9 L2179.5 408 L2175.6 407 L2171.7 406.1 L2167.8 405.1 L2163.9 404.2 L2160 403.3 L2156.1 402.4 L2152.2 401.4 L2148.4 400.5 L2144.5 399.6 L2140.6 398.7 L2136.7 397.8 L2132.8 396.9 L2128.9 396 L2125 395.1 L2121.1 394.2 L2117.2 393.4 L2113.3 392.5 L2109.4 391.6 L2105.5 390.8 L2101.6 389.9 L2097.7 389.1 L2093.7 388.2 L2089.8 387.4 L2085.9 386.5 L2082 385.7 L2078.1 384.9 L2074.2 384.1 L2070.3 383.2 L2066.4 382.4 L2062.4 381.6 L2058.5 380.8 L2054.6 380 L2050.7 379.2 L2046.8 378.4 L2042.9 377.7 L2038.9 376.9 L2035 376.1 L2031.1 375.3 L2027.2 374.6 L2023.2 373.8 L2019.3 373.1 L2015.4 372.3 L2011.4 371.6 L2007.5 370.8 L2003.6 370.1 L1999.7 369.4 L1995.7 368.6 L1991.8 367.9 L1987.9 367.2 L1983.9 366.5 L1980 365.8 L1976.1 365.1 L1972.1 364.3 L1968.2 363.6 L1964.2 363 L1960.3 362.3 L1956.4 361.6 L1952.4 360.9 L1948.5 360.2 L1944.5 359.5 L1940.6 358.9 L1936.7 358.2 L1932.7 357.5 L1928.8 356.9 L1924.8 356.2 L1920.9 355.6 L1916.9 354.9 L1913 354.3 L1909 353.7 L1905.1 353 L1901.2 352.4 L1897.2 351.8 L1893.3 351.1 L1889.3 350.5 L1885.4 349.9 L1881.4 349.3 L1877.4 348.7 L1873.5 348.1 L1869.5 347.5 L1865.6 346.9 L1861.6 346.3 L1857.7 345.7 L1853.7 345.1 L1849.8 344.6 L1845.8 344 L1841.9 343.4 L1837.9 342.8 L1833.9 342.3 L1830 341.7 L1826 341.2 L1822.1 340.6 L1818.1 340.1 L1814.1 339.5 L1810.2 339 L1806.2 338.4 L1802.2 337.9 L1798.3 337.4 L1794.3 336.8 L1790.4 336.3 L1786.4 335.8 L1782.4 335.3 L1778.5 334.8 L1774.5 334.3 L1770.5 333.8 L1766.6 333.3 L1762.6 332.8 L1758.6 332.3 L1754.7 331.8 L1750.7 331.3 L1746.7 330.8 L1742.7 330.4 L1738.8 329.9 L1734.8 329.4 L1730.8 329 L1726.9 328.5 L1722.9 328.1 L1718.9 327.6 L1714.9 327.2 L1711 326.8 L1707 326.3 L1703 325.9 L1699 325.5 L1695.1 325.1 L1691.1 324.7 L1687.1 324.3 L1683.1 323.9 L1679.1 323.5 L1675.2 323.1 L1671.2 322.7 L1667.2 322.3 L1663.2 322 L1659.2 321.6 L1655.3 321.3 L1651.3 320.9 L1647.3 320.6 L1643.3 320.3 L1639.3 319.9 L1635.3 319.6 L1631.3 319.3 L1627.4 319 L1623.4 318.7 L1619.4 318.4 L1615.4 318.2 L1611.4 317.9 L1607.4 317.6 L1603.4 317.4 L1599.4 317.1 L1595.4 316.9 L1591.4 316.7 L1587.5 316.5 L1583.5 316.2 L1579.5 316 L1575.5 315.9 L1571.5 315.7 L1567.5 315.5 L1563.5 315.3 L1559.5 315.2 L1555.5 315 L1551.5 314.9 L1547.5 314.8 L1543.5 314.6 L1539.5 314.5 L1535.5 314.4 L1531.5 314.3 L1527.5 314.3 L1523.5 314.2 L1519.5 314.1 L1515.5 314.1 L1511.5 314 L1507.5 314 L1503.5 314 L1499.5 314 L1495.5 314 L1491.5 314 L1487.5 314 L1483.5 314 L1479.5 314.1 L1475.5 314.1 L1471.5 314.2 L1467.5 314.3 L1463.6 314.3 L1459.6 314.4 L1455.6 314.5 L1451.6 314.7 L1447.6 314.8 L1443.6 314.9 L1439.6 315.1 L1435.6 315.2 L1431.6 315.4 L1427.6 315.6 L1423.6 315.8 L1419.6 316 L1415.6 316.2 L1411.6 316.4 L1407.6 316.7 L1403.6 316.9 L1399.6 317.2 L1395.7 317.4 L1391.7 317.7 L1387.7 318 L1383.7 318.3 L1379.7 318.6 L1375.7 319 L1371.7 319.3 L1367.8 319.7 L1363.8 320.1 L1359.8 320.4 L1355.8 320.8 L1351.8 321.2 L1347.9 321.7 L1343.9 322.1 L1339.9 322.5 L1335.9 323 L1332 323.5 L1328 324 L1324 324.4 L1320.1 325 L1316.1 325.5 L1312.1 326 L1308.2 326.6 L1304.2 327.1 L1300.3 327.7 L1296.3 328.3 L1292.4 328.9 L1288.4 329.6 L1284.5 330.2 L1280.5 330.9 L1276.6 331.5 L1272.6 332.2 L1268.7 332.9 L1264.8 333.6 L1260.8 334.3 L1256.9 335.1 L1253 335.8 L1249.1 336.6 L1245.1 337.4 L1241.2 338.2 L1237.3 339 L1233.4 339.9 L1229.5 340.7 L1225.6 341.6 L1221.7 342.5 L1217.8 343.4 L1213.9 344.3 L1210 345.3 L1206.1 346.2 L1202.3 347.2 L1198.4 348.2 L1194.5 349.2 L1190.7 350.2 L1186.8 351.3 L1182.9 352.4 L1179.1 353.4 L1175.3 354.5 L1171.4 355.7 L1167.6 356.8 L1163.8 358 L1159.9 359.1 L1156.1 360.3 L1152.3 361.6 L1148.5 362.8 L1144.7 364.1 L1140.9 365.3 L1137.2 366.7 L1133.4 368 L1129.6 369.3 L1125.9 370.7 L1122.1 372.1 L1118.4 373.5 L1114.6 374.9 L1110.9 376.4 L1107.2 377.8 L1103.5 379.3 L1099.8 380.9 L1096.1 382.4 L1092.4 384 L1088.8 385.6 L1085.1 387.2 L1081.5 388.8 L1077.8 390.5 L1074.2 392.2 L1070.6 393.9 L1067 395.7 L1063.4 397.4 L1059.8 399.2 L1056.3 401 L1052.7 402.9 L1049.2 404.7 L1045.7 406.6 L1042.2 408.6 L1038.7 410.5 L1035.2 412.5 L1031.7 414.5 L1028.3 416.5 L1024.8 418.6 L1021.4 420.6 L1018 422.7 L1014.6 424.9 L1011.3 427 L1007.9 429.2 L1004.6 431.4 L1001.3 433.7 L998 435.9 L994.7 438.2 L991.5 440.5 L988.2 442.9 L985 445.3 L981.8 447.7 L978.6 450.1 L975.5 452.5 L972.3 455 L969.2 457.5 L966.1 460 L963 462.6 L960 465.2 L957 467.8 L953.9 470.4 L951 473.1 L948 475.8 L945.1 478.5 L942.1 481.2 L939.3 484 L936.4 486.8 L933.5 489.6 L930.7 492.4 L927.9 495.3 L925.2 498.2 L922.4 501.1 L919.7 504 L917 507 L914.4 510 L911.7 513 L909.1 516 L906.5 519.1 L904 522.1 L901.5 525.2 L899 528.3 L896.5 531.5 L894 534.7 L891.6 537.8 L889.2 541.1 L886.9 544.3 L884.6 547.5 L882.3 550.8 L880 554.1 L877.7 557.4 L875.5 560.7 L873.3 564.1 L871.2 567.5 L869.1 570.8 L867 574.2 L864.9 577.7 L862.9 581.1 L860.8 584.6 L858.9 588 L856.9 591.5 L855 595 L853.1 598.5 L851.2 602.1 L849.4 605.6 L847.6 609.2 L845.8 612.8 L844 616.4 L842.3 620 L840.6 623.6 L839 627.2 L837.3 630.9 L835.7 634.6 L834.2 638.2 L832.6 641.9 L831.1 645.6 L829.6 649.3 L828.2 653.1 L826.7 656.8 L825.3 660.5 L824 664.3 L822.6 668.1 L821.3 671.8 L820.1 675.6 L818.8 679.4 L817.6 683.3 L816.5 687.1 L815.3 690.9 L814.2 694.7 L813.1 698.6 L812.1 702.5 L811.1 706.3 L810.1 710.2 L809.2 714.1 L808.3 718 L807.4 721.9 L806.6 725.8 L805.8 729.7 L805 733.6 L804.3 737.6 L803.6 741.5 L802.9 745.5 L802.3 749.4 L801.7 753.4 L801.2 757.3 L800.7 761.3 L800.2 765.3 L799.8 769.2 L799.4 773.2 L799 777.2 L798.7 781.2 L798.4 785.2 L798.1 789.2 L797.9 793.2 L797.7 797.1 L797.6 801.1 L797.4 805.1 L797.4 809.1 L797.3 813.1 L797.3 817.1 L797.3 821.1 L797.4 825.1 L797.5 829.1 L797.6 833.1 L797.8 837.1 L798 841.1 L798.2 845.1 L798.4 849.1 L798.7 853.1 L799 857.1 L799.4 861.1 L799.8 865 L800.2 869 L800.6 873 L801.1 877 L801.6 880.9 L802.1 884.9 L802.6 888.8 L803.2 892.8 L803.8 896.8 L804.5 900.7 L805.2 904.6 L805.9 908.6 L806.6 912.5 L807.3 916.4 L808.1 920.4 L809 924.3 L809.8 928.2 L810.7 932.1 L811.6 936 L812.5 939.9 L813.5 943.7 L814.4 947.6 L815.5 951.5 L816.5 955.3 L817.6 959.2 L818.7 963 L819.8 966.9 L821 970.7 L822.2 974.5 L823.4 978.3 L824.6 982.1 L825.9 985.9 L827.2 989.7 L828.5 993.5 L829.9 997.2 L831.2 1001 L832.7 1004.7 L834.1 1008.5 L835.5 1012.2 L837 1015.9 L838.5 1019.6 L840.1 1023.3 L841.6 1027 L843.2 1030.6 L844.8 1034.3 L846.5 1038 L848.1 1041.6 L849.8 1045.2 L851.5 1048.8 L853.3 1052.4 L855 1056 L856.8 1059.6 L858.6 1063.2 L860.4 1066.7 L862.3 1070.3 L864.1 1073.8 L866 1077.3 L867.9 1080.9 L869.9 1084.4 L871.8 1087.8 L873.8 1091.3 L875.8 1094.8 L877.8 1098.2 L879.9 1101.7 L881.9 1105.1 L884 1108.5 L886.1 1111.9 L888.2 1115.3 L890.4 1118.7 L892.5 1122 L894.7 1125.4 L896.9 1128.7 L899.1 1132.1 L901.4 1135.4 L903.6 1138.7 L905.9 1142 L908.2 1145.3 L910.5 1148.5 L912.8 1151.8 L915.1 1155 L917.5 1158.3 L919.8 1161.5 L922.2 1164.7 L924.6 1167.9 L927 1171.1 L929.5 1174.3 L931.9 1177.4 L934.4 1180.6 L936.8 1183.7 L939.3 1186.8 L941.8 1190 L944.4 1193.1 L946.9 1196.2 L949.4 1199.2 L952 1202.3 L954.6 1205.4 L957.2 1208.4 L959.8 1211.5 L962.4 1214.5 L965 1217.5 L967.6 1220.5 L970.3 1223.5 L973 1226.5 L975.7 1229.4 L978.4 1232.4 L981.1 1235.3 L983.8 1238.2 L986.5 1241.2 L989.3 1244.1 L992 1247 L994.8 1249.8 L997.6 1252.7 L1000.4 1255.5 L1003.2 1258.4 L1006.1 1261.2 L1008.9 1264 L1011.8 1266.8 L1014.6 1269.6 L1017.5 1272.4 L1020.4 1275.1 L1023.3 1277.9 L1026.2 1280.6 L1029.2 1283.3 L1032.1 1286 L1035.1 1288.7 L1038 1291.4 L1041 1294.1 L1044 1296.7 L1047 1299.4 L1050 1302 L1053 1304.6 L1056.1 1307.2 L1059.1 1309.8 L1062.2 1312.4 L1065.2 1315 L1068.3 1317.5 L1071.4 1320.1 L1074.5 1322.6 L1077.6 1325.1 L1080.7 1327.6 L1083.9 1330.1 L1087 1332.6 L1090.2 1335 L1093.3 1337.5 L1096.5 1339.9 L1099.7 1342.3 L1102.9 1344.7 L1106.1 1347.1 L1109.3 1349.5 L1112.5 1351.9 L1115.7 1354.2 L1119 1356.5 L1122.2 1358.9 L1125.5 1361.2 L1128.8 1363.5 L1132.1 1365.7 L1135.4 1368 L1138.7 1370.2 L1142 1372.5 L1145.3 1374.7 L1148.7 1376.9 L1152 1379 L1155.4 1381.2 L1158.8 1383.3 L1162.2 1385.5 L1165.6 1387.6 L1169 1389.6 L1172.4 1391.7 L1175.8 1393.8 L1179.3 1395.8 L1182.7 1397.8 L1186.2 1399.8 L1189.7 1401.8 L1193.1 1403.8 L1196.6 1405.7 L1200.1 1407.7 L1203.6 1409.6 L1207.2 1411.5 L1210.7 1413.4 L1214.2 1415.2 L1217.8 1417.1 L1221.3 1418.9 L1224.9 1420.8 L1228.4 1422.6 L1232 1424.3 L1235.6 1426.1 L1239.2 1427.9 L1242.8 1429.6 L1246.4 1431.3 L1250 1433 L1253.6 1434.7 L1257.3 1436.4 L1260.9 1438.1 L1264.6 1439.7 L1268.2 1441.3 L1271.9 1442.9 L1275.5 1444.5 L1279.2 1446.1 L1282.9 1447.6 L1286.6 1449.2 L1290.3 1450.7 L1294 1452.2 L1297.7 1453.7 L1301.4 1455.2 L1305.2 1456.6 L1308.9 1458 L1312.6 1459.5 L1316.4 1460.9 L1320.1 1462.2 L1323.9 1463.6 L1327.7 1464.9 L1331.4 1466.3 L1335.2 1467.6 L1339 1468.9 L1342.8 1470.1 L1346.6 1471.4 L1350.4 1472.6 L1354.2 1473.8 L1358 1475 L1361.8 1476.2 L1365.7 1477.3 L1369.5 1478.5 L1373.3 1479.6 L1377.2 1480.7 L1381 1481.7 L1384.9 1482.8 L1388.8 1483.8 L1392.6 1484.8 L1396.5 1485.8 L1400.4 1486.7 L1404.3 1487.7 L1408.2 1488.6 L1412.1 1489.4 L1416 1490.3 L1419.9 1491.1 L1423.8 1491.9 L1427.7 1492.7 L1431.7 1493.5 L1435.6 1494.2 L1439.5 1494.9 L1443.5 1495.6 L1447.4 1496.2 L1451.4 1496.8 L1455.3 1497.4 L1459.3 1498 L1463.2 1498.5 L1467.2 1499 L1471.2 1499.4 L1475.2 1499.8 L1479.1 1500.2 L1483.1 1500.5 L1487.1 1500.8 L1491.1 1501.1 L1495.1 1501.3 L1499.1 1501.4 L1503.1 1501.5 L1507.1 1501.6 L1511.1 1501.6 L1515.1 1501.5 L1519.1 1501.4 L1523.1 1501.2 L1527.1 1500.9 L1531.1 1500.5 L1535 1500.1 L1539 1499.6 L1542.9 1499 L1546.9 1498.2 L1550.8 1497.3 L1554.6 1496.3 L1558.5 1495.2 L1562.2 1493.8 L1565.9 1492.2 L1569.5 1490.4 L1572.9 1488.3 L1576 1485.9 L1578.8 1483 L1581.2 1479.8 L1582.9 1476.2 L1583.9 1472.3 L1584.1 1468.4 L1583.4 1464.4 L1582 1460.7 L1580.1 1457.2 L1577.8 1453.9 L1575.2 1450.8 L1572.4 1448 L1569.5 1445.3 L1566.4 1442.8 L1563.1 1440.4 L1559.8 1438.2 L1556.4 1436.1 L1552.9 1434.1 L1549.4 1432.2 L1545.8 1430.5 L1542.1 1428.9 L1538.4 1427.4 L1534.7 1426 L1530.9 1424.8 L1527 1423.7 L1523.1 1422.8 L1519.2 1422"/>
<polygon fill="#ff00ff" stroke="#ff00ff" stroke-width="1.6" stroke-linejoin="round" points="1283.9,331.9 1283.6,329.3 1328.6,308.9 1317.6,327.2 1332.1,342.9"/>
<path stroke="#ff00ff" stroke-width="3" stroke-dasharray="none" d="M1285.3 330.4 L1325.1 326.4"/>
<polygon fill="#ff00ff" stroke="#ff00ff" stroke-width="1.6" stroke-linejoin="round" points="1031.7,416.6 1030.5,414.2 1066.1,379.9 1061.8,400.8 1080.7,410.8"/>
<path stroke="#ff00ff" stroke-width="3" stroke-dasharray="none" d="M1032.5 414.8 L1068.6 397.6"/>
<polygon fill="#ff00ff" stroke="#ff00ff" stroke-width="1.6" stroke-linejoin="round" points="1883.8,349.6 1884.3,347.1 1933.2,339.8 1917.5,354.4 1927.1,373.5"/>
<path stroke="#ff00ff" stroke-width="3" stroke-dasharray="none" d="M1885.5 348.6 L1924.9 355.7"/>
<polygon fill="#ff00ff" stroke="#ff00ff" stroke-width="1.6" stroke-linejoin="round" points="2635.9,539.3 2636.8,536.8 2686.1,539.2 2668,550.4 2673.7,571"/>
<path stroke="#ff00ff" stroke-width="3" stroke-dasharray="none" d="M2637.7 538.6 L2675 553.2"/>
<polygon fill="#ff00ff" stroke="#ff00ff" stroke-width="1.6" stroke-linejoin="round" points="805.1,914.6 802.5,915.1 778.7,871.8 797.8,881.4 812.3,865.8"/>
<path stroke="#ff00ff" stroke-width="3" stroke-dasharray="none" d="M803.5 913.4 L796.4 874"/>
<path stroke="#bfbf00" stroke-dasharray="28 5.3 14.47 5.3" d="M2670.7 439.2 L2666.9 438 L2663.1 436.8 L2659.3 435.5 L2655.4 434.3 L2651.6 433.1 L2647.8 431.9 L2644 430.7 L2640.2 429.5 L2636.4 428.3 L2632.6 427.1 L2628.7 425.9 L2624.9 424.7 L2621.1 423.5 L2617.3 422.4 L2613.5 421.2 L2609.6 420 L2605.8 418.8 L2602 417.6 L2598.2 416.4 L2594.4 415.3 L2590.5 414.1 L2586.7 412.9 L2582.9 411.8 L2579.1 410.6 L2575.2 409.4 L2571.4 408.3 L2567.6 407.1 L2563.7 405.9 L2559.9 404.8 L2556.1 403.6 L2552.3 402.5 L2548.4 401.3 L2544.6 400.2 L2540.8 399 L2536.9 397.9 L2533.1 396.7 L2529.3 395.6 L2525.4 394.5 L2521.6 393.3 L2517.8 392.2 L2513.9 391 L2510.1 389.9 L2506.3 388.8 L2502.4 387.6 L2498.6 386.5 L2494.8 385.4 L2490.9 384.2 L2487.1 383.1 L2483.2 382 L2479.4 380.8 L2475.6 379.7 L2471.7 378.6 L2467.9 377.5 L2464.1 376.3 L2460.2 375.2 L2456.4 374.1 L2452.5 373 L2448.7 371.8 L2444.9 370.7 L2441 369.6 L2437.2 368.5 L2433.3 367.4 L2429.5 366.2 L2425.7 365.1 L2421.8 364 L2418 362.9 L2414.1 361.8 L2410.3 360.7 L2406.4 359.6 L2402.6 358.5 L2398.8 357.3 L2394.9 356.2 L2391.1 355.1 L2387.2 354 L2383.4 352.9 L2379.5 351.8 L2375.7 350.7 L2371.8 349.6 L2368 348.5 L2364.1 347.5 L2360.3 346.4 L2356.4 345.3 L2352.6 344.2 L2348.7 343.1 L2344.9 342 L2341 341 L2337.2 339.9 L2333.3 338.8 L2329.5 337.7 L2325.6 336.7 L2321.8 335.6 L2317.9 334.6 L2314.1 333.5 L2310.2 332.4 L2306.3 331.4 L2302.5 330.3 L2298.6 329.3 L2294.8 328.2 L2290.9 327.2 L2287 326.2 L2283.2 325.1 L2279.3 324.1 L2275.4 323.1 L2271.6 322.1 L2267.7 321 L2263.8 320 L2260 319 L2256.1 318 L2252.2 317 L2248.4 316 L2244.5 315 L2240.6 314 L2236.7 313 L2232.9 312 L2229 311 L2225.1 310 L2221.2 309.1 L2217.3 308.1 L2213.5 307.1 L2209.6 306.2 L2205.7 305.2 L2201.8 304.2 L2197.9 303.3 L2194 302.3 L2190.2 301.4 L2186.3 300.4 L2182.4 299.5 L2178.5 298.6 L2174.6 297.6 L2170.7 296.7 L2166.8 295.8 L2162.9 294.9 L2159 293.9 L2155.1 293 L2151.3 292.1 L2147.4 291.2 L2143.5 290.3 L2139.6 289.4 L2135.7 288.5 L2131.8 287.6 L2127.9 286.7 L2124 285.9 L2120.1 285 L2116.2 284.1 L2112.3 283.2 L2108.3 282.4 L2104.4 281.5 L2100.5 280.6 L2096.6 279.8 L2092.7 278.9 L2088.8 278.1 L2084.9 277.2 L2081 276.4 L2077.1 275.6 L2073.2 274.7 L2069.3 273.9 L2065.3 273.1 L2061.4 272.3 L2057.5 271.4 L2053.6 270.6 L2049.7 269.8 L2045.8 269 L2041.8 268.2 L2037.9 267.4 L2034 266.6 L2030.1 265.8 L2026.2 265 L2022.2 264.3 L2018.3 263.5 L2014.4 262.7 L2010.5 261.9 L2006.5 261.2 L2002.6 260.4 L1998.7 259.7 L1994.7 258.9 L1990.8 258.2 L1986.9 257.4 L1983 256.7 L1979 256 L1975.1 255.2 L1971.2 254.5 L1967.2 253.8 L1963.3 253.1 L1959.4 252.4 L1955.4 251.7 L1951.5 251 L1947.5 250.3 L1943.6 249.6 L1939.7 248.9 L1935.7 248.2 L1931.8 247.5 L1927.8 246.9 L1923.9 246.2 L1919.9 245.5 L1916 244.9 L1912 244.2 L1908.1 243.6 L1904.1 243 L1900.2 242.3 L1896.2 241.7 L1892.3 241.1 L1888.3 240.5 L1884.4 239.9 L1880.4 239.3 L1876.5 238.7 L1872.5 238.1 L1868.6 237.5 L1864.6 236.9 L1860.7 236.3 L1856.7 235.7 L1852.7 235.2 L1848.8 234.6 L1844.8 234 L1840.9 233.5 L1836.9 233 L1832.9 232.4 L1829 231.9 L1825 231.3 L1821 230.8 L1817.1 230.3 L1813.1 229.8 L1809.1 229.3 L1805.2 228.8 L1801.2 228.3 L1797.2 227.8 L1793.3 227.3 L1789.3 226.8 L1785.3 226.4 L1781.3 225.9 L1777.4 225.4 L1773.4 225 L1769.4 224.5 L1765.4 224.1 L1761.5 223.6 L1757.5 223.2 L1753.5 222.8 L1749.5 222.3 L1745.6 221.9 L1741.6 221.5 L1737.6 221.1 L1733.6 220.7 L1729.6 220.3 L1725.7 219.9 L1721.7 219.5 L1717.7 219.1 L1713.7 218.8 L1709.7 218.4 L1705.8 218 L1701.8 217.7 L1697.8 217.3 L1693.8 217 L1689.8 216.6 L1685.8 216.3 L1681.8 216 L1677.9 215.7 L1673.9 215.4 L1669.9 215 L1665.9 214.7 L1661.9 214.5 L1657.9 214.2 L1653.9 213.9 L1649.9 213.6 L1645.9 213.3 L1642 213.1 L1638 212.8 L1634 212.6 L1630 212.3 L1626 212.1 L1622 211.9 L1618 211.6 L1614 211.4 L1610 211.2 L1606 211 L1602 210.8 L1598 210.6 L1594 210.4 L1590 210.3 L1586 210.1 L1582 209.9 L1578 209.8 L1574 209.6 L1570 209.5 L1566 209.4 L1562.1 209.3 L1558.1 209.1 L1554.1 209 L1550.1 208.9 L1546.1 208.8 L1542.1 208.8 L1538.1 208.7 L1534.1 208.6 L1530.1 208.6 L1526.1 208.5 L1522.1 208.5 L1518.1 208.4 L1514.1 208.4 L1510.1 208.4 L1506.1 208.4 L1502.1 208.4 L1498.1 208.4 L1494.1 208.4 L1490.1 208.5 L1486.1 208.5 L1482.1 208.6 L1478.1 208.6 L1474.1 208.7 L1470.1 208.8 L1466.1 208.9 L1462.1 209 L1458.1 209.1 L1454.1 209.2 L1450.1 209.3 L1446.1 209.5 L1442.1 209.6 L1438.1 209.8 L1434.1 209.9 L1430.1 210.1 L1426.1 210.3 L1422.1 210.5 L1418.1 210.7 L1414.1 210.9 L1410.1 211.2 L1406.1 211.4 L1402.1 211.7 L1398.1 211.9 L1394.2 212.2 L1390.2 212.5 L1386.2 212.8 L1382.2 213.1 L1378.2 213.4 L1374.2 213.8 L1370.2 214.1 L1366.2 214.4 L1362.3 214.8 L1358.3 215.2 L1354.3 215.6 L1350.3 216 L1346.3 216.4 L1342.4 216.8 L1338.4 217.2 L1334.4 217.7 L1330.4 218.1 L1326.5 218.6 L1322.5 219.1 L1318.5 219.6 L1314.6 220.1 L1310.6 220.6 L1306.6 221.1 L1302.7 221.7 L1298.7 222.2 L1294.7 222.8 L1290.8 223.4 L1286.8 224 L1282.9 224.6 L1278.9 225.2 L1275 225.8 L1271 226.4 L1267.1 227.1 L1263.1 227.8 L1259.2 228.4 L1255.2 229.1 L1251.3 229.8 L1247.4 230.6 L1243.4 231.3 L1239.5 232 L1235.6 232.8 L1231.7 233.6 L1227.7 234.4 L1223.8 235.2 L1219.9 236 L1216 236.8 L1212.1 237.7 L1208.2 238.5 L1204.3 239.4 L1200.4 240.3 L1196.5 241.2 L1192.6 242.1 L1188.7 243.1 L1184.8 244.1 L1181 245 L1177.1 246 L1173.2 247 L1169.3 248.1 L1165.5 249.1 L1161.6 250.2 L1157.8 251.3 L1153.9 252.4 L1150.1 253.5 L1146.3 254.6 L1142.4 255.8 L1138.6 257 L1134.8 258.2 L1131 259.4 L1127.2 260.7 L1123.4 261.9 L1119.6 263.2 L1115.8 264.5 L1112 265.8 L1108.3 267.2 L1104.5 268.5 L1100.8 269.9 L1097 271.3 L1093.3 272.8 L1089.6 274.2 L1085.8 275.7 L1082.1 277.2 L1078.4 278.7 L1074.7 280.3 L1071.1 281.8 L1067.4 283.4 L1063.7 285 L1060.1 286.7 L1056.5 288.3 L1052.8 290 L1049.2 291.7 L1045.6 293.5 L1042 295.2 L1038.4 297 L1034.9 298.8 L1031.3 300.6 L1027.8 302.5 L1024.2 304.3 L1020.7 306.2 L1017.2 308.2 L1013.7 310.1 L1010.2 312.1 L1006.8 314.1 L1003.3 316.1 L999.9 318.2 L996.4 320.2 L993 322.3 L989.6 324.4 L986.3 326.6 L982.9 328.7 L979.6 330.9 L976.2 333.1 L972.9 335.4 L969.6 337.6 L966.3 339.9 L963.1 342.2 L959.8 344.6 L956.6 346.9 L953.4 349.3 L950.2 351.7 L947 354.1 L943.8 356.6 L940.7 359.1 L937.6 361.6 L934.5 364.1 L931.4 366.6 L928.3 369.2 L925.3 371.8 L922.2 374.4 L919.2 377.1 L916.2 379.7 L913.3 382.4 L910.3 385.1 L907.4 387.8 L904.5 390.6 L901.6 393.4 L898.8 396.1 L895.9 399 L893.1 401.8 L890.3 404.7 L887.5 407.5 L884.8 410.4 L882 413.3 L879.3 416.3 L876.6 419.3 L874 422.2 L871.3 425.2 L868.7 428.2 L866.1 431.3 L863.5 434.3 L860.9 437.4 L858.4 440.5 L855.9 443.6 L853.4 446.8 L850.9 449.9 L848.5 453.1 L846.1 456.3 L843.7 459.5 L841.3 462.7 L839 465.9 L836.6 469.2 L834.3 472.4 L832.1 475.7 L829.8 479 L827.6 482.4 L825.4 485.7 L823.2 489.1 L821 492.4 L818.9 495.8 L816.8 499.2 L814.7 502.6 L812.7 506.1 L810.7 509.5 L808.7 513 L806.7 516.5 L804.8 520 L802.9 523.5 L801 527 L799.1 530.6 L797.3 534.1 L795.5 537.7 L793.8 541.3 L792.1 544.9 L790.4 548.5 L788.7 552.2 L787.1 555.8 L785.5 559.5 L783.9 563.2 L782.4 566.9 L780.9 570.6 L779.4 574.3 L778 578.1 L776.6 581.8 L775.3 585.6 L774 589.3 L772.7 593.1 L771.5 596.9 L770.2 600.8 L769.1 604.6 L767.9 608.4 L766.8 612.3 L765.8 616.1 L764.8 620 L763.8 623.9 L762.8 627.7 L761.9 631.6 L761 635.5 L760.2 639.4 L759.4 643.4 L758.6 647.3 L757.8 651.2 L757.1 655.1 L756.4 659.1 L755.8 663 L755.2 667 L754.6 670.9 L754 674.9 L753.5 678.9 L753 682.8 L752.5 686.8 L752.1 690.8 L751.7 694.8 L751.3 698.8 L751 702.7 L750.7 706.7 L750.4 710.7 L750.1 714.7 L749.9 718.7 L749.7 722.7 L749.5 726.7 L749.4 730.7 L749.3 734.7 L749.2 738.7 L749.1 742.7 L749.1 746.7 L749.1 750.7 L749.1 754.7 L749.2 758.7 L749.3 762.7 L749.4 766.7 L749.5 770.7 L749.7 774.7 L749.9 778.7 L750.1 782.7 L750.4 786.7 L750.7 790.6 L751 794.6 L751.3 798.6 L751.7 802.6 L752 806.6 L752.5 810.6 L752.9 814.5 L753.4 818.5 L753.9 822.5 L754.4 826.4 L754.9 830.4 L755.5 834.4 L756.1 838.3 L756.7 842.3 L757.4 846.2 L758 850.2 L758.7 854.1 L759.4 858 L760.2 862 L761 865.9 L761.8 869.8 L762.6 873.7 L763.4 877.6 L764.3 881.5 L765.2 885.4 L766.1 889.3 L767 893.2 L768 897.1 L769 901 L770 904.8 L771 908.7 L772.1 912.6 L773.2 916.4 L774.3 920.3 L775.4 924.1 L776.6 927.9 L777.8 931.8 L779 935.6 L780.2 939.4 L781.4 943.2 L782.7 947 L784 950.8 L785.3 954.5 L786.6 958.3 L788 962.1 L789.4 965.8 L790.8 969.6 L792.2 973.3 L793.7 977 L795.1 980.8 L796.6 984.5 L798.1 988.2 L799.6 991.9 L801.2 995.6 L802.8 999.2 L804.4 1002.9 L806 1006.6 L807.6 1010.2 L809.2 1013.9 L810.9 1017.5 L812.6 1021.1 L814.3 1024.7 L816 1028.3 L817.8 1031.9 L819.6 1035.5 L821.4 1039.1 L823.2 1042.7 L825 1046.2 L826.8 1049.8 L828.7 1053.3 L830.6 1056.9 L832.5 1060.4 L834.4 1063.9 L836.3 1067.4 L838.3 1070.9 L840.2 1074.4 L842.2 1077.8 L844.2 1081.3 L846.3 1084.7 L848.3 1088.2 L850.4 1091.6 L852.5 1095 L854.5 1098.4 L856.7 1101.8 L858.8 1105.2 L860.9 1108.6 L863.1 1112 L865.3 1115.3 L867.5 1118.6 L869.7 1122 L871.9 1125.3 L874.1 1128.6 L876.4 1131.9 L878.7 1135.2 L881 1138.5 L883.3 1141.8 L885.6 1145 L887.9 1148.3 L890.3 1151.5 L892.7 1154.7 L895 1157.9 L897.4 1161.1 L899.9 1164.3 L902.3 1167.5 L904.7 1170.7 L907.2 1173.8 L909.7 1177 L912.2 1180.1 L914.7 1183.2 L917.2 1186.3 L919.7 1189.4 L922.3 1192.5 L924.8 1195.6 L927.4 1198.6 L930 1201.7 L932.6 1204.7 L935.2 1207.7 L937.9 1210.7 L940.5 1213.7 L943.2 1216.7 L945.8 1219.7 L948.5 1222.6 L951.2 1225.6 L953.9 1228.5 L956.7 1231.5 L959.4 1234.4 L962.2 1237.3 L965 1240.1 L967.7 1243 L970.5 1245.9 L973.3 1248.7 L976.2 1251.6 L979 1254.4 L981.9 1257.2 L984.7 1260 L987.6 1262.8 L990.5 1265.5 L993.4 1268.3 L996.3 1271 L999.2 1273.7 L1002.2 1276.5 L1005.1 1279.2 L1008.1 1281.8 L1011.1 1284.5 L1014 1287.2 L1017 1289.8 L1020.1 1292.5 L1023.1 1295.1 L1026.1 1297.7 L1029.2 1300.3 L1032.2 1302.8 L1035.3 1305.4 L1038.4 1307.9 L1041.5 1310.5 L1044.6 1313 L1047.7 1315.5 L1050.9 1318 L1054 1320.4 L1057.2 1322.9 L1060.4 1325.3 L1063.6 1327.7 L1066.8 1330.1 L1070 1332.5 L1073.2 1334.8 L1076.5 1337.2 L1079.7 1339.5 L1083 1341.8 L1086.3 1344 L1089.6 1346.3 L1092.9 1348.6 L1096.2 1350.8 L1099.5 1353 L1102.9 1355.2 L1106.2 1357.4 L1109.6 1359.6 L1112.9 1361.8 L1116.3 1363.9 L1119.7 1366.1 L1123 1368.2 L1126.4 1370.3 L1129.8 1372.5 L1133.2 1374.6 L1136.6 1376.7 L1140 1378.8 L1143.4 1380.9 L1146.9 1382.9 L1150.3 1385 L1153.7 1387 L1157.2 1389.1 L1160.6 1391.1 L1164.1 1393.1 L1167.5 1395.1 L1171 1397.1 L1174.5 1399.1 L1178 1401 L1181.5 1403 L1185 1404.9 L1188.5 1406.9 L1192 1408.8 L1195.5 1410.7 L1199 1412.5 L1202.6 1414.4 L1206.1 1416.2 L1209.7 1418.1 L1213.2 1419.9 L1216.8 1421.7 L1220.4 1423.5 L1224 1425.3 L1227.6 1427 L1231.2 1428.8 L1234.8 1430.5 L1238.4 1432.2 L1242 1433.9 L1245.6 1435.6 L1249.3 1437.3 L1252.9 1439 L1256.5 1440.6 L1260.2 1442.2 L1263.9 1443.8 L1267.5 1445.4 L1271.2 1447 L1274.9 1448.6 L1278.6 1450.1 L1282.3 1451.6 L1286 1453.2 L1289.7 1454.7 L1293.4 1456.1 L1297.1 1457.6 L1300.8 1459.1 L1304.6 1460.5 L1308.3 1461.9 L1312.1 1463.3 L1315.8 1464.7 L1319.6 1466 L1323.4 1467.4 L1327.1 1468.7 L1330.9 1470 L1334.7 1471.3 L1338.5 1472.6 L1342.3 1473.9 L1346.1 1475.1 L1349.9 1476.3 L1353.7 1477.5 L1357.5 1478.7 L1361.4 1479.8 L1365.2 1481 L1369 1482.1 L1372.9 1483.2 L1376.7 1484.3 L1380.6 1485.4 L1384.4 1486.4 L1388.3 1487.4 L1392.2 1488.4 L1396.1 1489.4 L1400 1490.3 L1403.8 1491.3 L1407.7 1492.2 L1411.6 1493 L1415.5 1493.9 L1419.5 1494.7 L1423.4 1495.5 L1427.3 1496.3 L1431.2 1497.1 L1435.2 1497.8 L1439.1 1498.5 L1443 1499.2 L1447 1499.8 L1450.9 1500.4 L1454.9 1501 L1458.9 1501.5 L1462.8 1502 L1466.8 1502.5 L1470.8 1503 L1474.8 1503.4 L1478.7 1503.7 L1482.7 1504.1 L1486.7 1504.3 L1490.7 1504.6 L1494.7 1504.8 L1498.7 1504.9 L1502.7 1505 L1506.7 1505.1 L1510.7 1505.1 L1514.7 1505 L1518.7 1504.9 L1522.7 1504.7 L1526.7 1504.5 L1530.7 1504.2 L1534.7 1503.8 L1538.6 1503.3 L1542.6 1502.7 L1546.5 1502 L1550.4 1501.2 L1554.3 1500.2 L1558.2 1499.2 L1562 1497.9 L1565.7 1496.5 L1569.4 1494.8 L1572.9 1492.9 L1576.2 1490.8 L1579.3 1488.3 L1582.1 1485.4 L1584.4 1482.1 L1586.1 1478.5 L1587 1474.6 L1587.1 1470.6 L1586.3 1466.7 L1584.9 1462.9 L1583 1459.4 L1580.7 1456.1 L1578.2 1453 L1575.4 1450.2 L1572.5 1447.5 L1569.4 1444.9 L1566.2 1442.5 L1562.9 1440.3 L1559.5 1438.1 L1556 1436.1 L1552.5 1434.2 L1548.9 1432.5 L1545.3 1430.8 L1541.6 1429.3 L1537.8 1427.8 L1534.1 1426.5 L1530.2 1425.3 L1526.4 1424.3 L1522.5 1423.4 L1518.5 1422.7"/>
<polygon fill="#bfbf00" stroke="#bfbf00" stroke-width="1.6" stroke-linejoin="round" points="994.4,325.9 993.4,323.5 1030.2,290.6 1025.2,311.4 1043.6,322.1"/>
<path stroke="#bfbf00" stroke-width="3" stroke-dasharray="none" d="M995.2 324.1 L1032.1 308.4"/>
<polygon fill="#bfbf00" stroke="#bfbf00" stroke-width="1.6" stroke-linejoin="round" points="1486.5,207.6 1486.6,205 1534.3,192 1520.5,208.3 1532.3,226.1"/>
<path stroke="#bfbf00" stroke-width="3" stroke-dasharray="none" d="M1488 206.4 L1528 208.7"/>
<polygon fill="#bfbf00" stroke="#bfbf00" stroke-width="1.6" stroke-linejoin="round" points="1798.6,228.3 1798.9,225.7 1847.1,214.9 1832.6,230.6 1843.5,248.9"/>
<path stroke="#bfbf00" stroke-width="3" stroke-dasharray="none" d="M1800.2 227.1 L1840 231.4"/>
<polygon fill="#bfbf00" stroke="#bfbf00" stroke-width="1.6" stroke-linejoin="round" points="2117.1,283.9 2117.7,281.3 2166.9,276.7 2150.5,290.4 2159,309.9"/>
<path stroke="#bfbf00" stroke-width="3" stroke-dasharray="none" d="M2118.9 282.9 L2157.8 292.1"/>
<polygon fill="#bfbf00" stroke="#bfbf00" stroke-width="1.6" stroke-linejoin="round" points="2502.5,387.5 2503.4,385 2552.8,384.9 2535.2,397.1 2541.8,417.4"/>
<path stroke="#bfbf00" stroke-width="3" stroke-dasharray="none" d="M2504.4 386.7 L2542.3 399.5"/>
<polygon fill="#bfbf00" stroke="#bfbf00" stroke-width="1.6" stroke-linejoin="round" points="756.4,651.5 754,650.7 753.6,601.3 765.8,618.8 786,612"/>
<path stroke="#bfbf00" stroke-width="3" stroke-dasharray="none" d="M755.7 649.7 L768.1 611.7"/>
<polygon fill="#bfbf00" stroke="#bfbf00" stroke-width="1.6" stroke-linejoin="round" points="866.9,1122.6 864.7,1124 825.3,1094.2 846.7,1095.2 853.6,1075"/>
<path stroke="#bfbf00" stroke-width="3" stroke-dasharray="none" d="M864.9 1122.1 L842.4 1089"/>
</g></g>
<g fill="#262626" font-size="64.5">
<text transform="translate(205.5,1681) scale(0.603,1)" text-anchor="middle">500</text>
<text transform="translate(571.3,1681) scale(0.603,1)" text-anchor="middle">1000</text>
<text transform="translate(937.2,1681) scale(0.603,1)" text-anchor="middle">1500</text>
<text transform="translate(1303,1681) scale(0.603,1)" text-anchor="middle">2000</text>
<text transform="translate(1668.8,1681) scale(0.603,1)" text-anchor="middle">2500</text>
<text transform="translate(2034.7,1681) scale(0.603,1)" text-anchor="middle">3000</text>
<text transform="translate(2400.5,1681) scale(0.603,1)" text-anchor="middle">3500</text>
<text transform="translate(189.4,1618.8) scale(0.603,1)" text-anchor="end">800</text>
<text transform="translate(189.4,1426.3) scale(0.603,1)" text-anchor="end">1000</text>
<text transform="translate(189.4,1233.8) scale(0.603,1)" text-anchor="end">1200</text>
<text transform="translate(189.4,1041.3) scale(0.603,1)" text-anchor="end">1400</text>
<text transform="translate(189.4,848.8) scale(0.603,1)" text-anchor="end">1600</text>
<text transform="translate(189.4,656.3) scale(0.603,1)" text-anchor="end">1800</text>
<text transform="translate(189.4,463.8) scale(0.603,1)" text-anchor="end">2000</text>
<text transform="translate(189.4,271.3) scale(0.603,1)" text-anchor="end">2200</text>
<text transform="translate(189.4,78.8) scale(0.603,1)" text-anchor="end">2400</text>
</g>
<g fill="#262626">
<text transform="translate(1278.6,1772.2) scale(0.575,1)" font-size="71.3">S<tspan font-size="51.2" dx="3.5" dy="30.6">1</tspan></text>
<text transform="translate(67,850.5) scale(0.62,1) rotate(-90)" font-size="70">I<tspan font-size="56" dx="0.6" dy="33.5">1</tspan></text>
</g>
<g shape-rendering="crispEdges">
<rect x="2164" y="95" width="214" height="463" fill="#ffffff"/>
<g fill="#262626"><rect x="2164" y="95" width="214" height="4"/><rect x="2164" y="555" width="214" height="3"/><rect x="2164" y="95" width="2" height="463"/><rect x="2376" y="95" width="2" height="463"/></g>
<g transform="scale(0.625,1)" fill="none" stroke-width="9.9">
<path stroke="#0000ff" stroke-dasharray="28.8 24" d="M3513.4 140 L3616 140"/>
<path stroke="#ff0000" d="M3513.4 214.6 L3616 214.6"/>
<path stroke="#000000" stroke-dasharray="28.8 4.8 14.4 4.8" d="M3513.4 289.2 L3616 289.2"/>
<path stroke="#d95319" stroke-dasharray="28.8 24" d="M3513.4 363.8 L3616 363.8"/>
<path stroke="#ff00ff" d="M3513.4 438.4 L3616 438.4"/>
<path stroke="#bfbf00" stroke-dasharray="28.8 4.8 14.4 4.8" d="M3513.4 513 L3616 513"/>
</g>
</g>
<g fill="#000000" font-size="55.2">
<text transform="translate(2342.4,162.8) scale(0.648,1)" text-anchor="end">1000</text>
<text transform="translate(2342.4,237.4) scale(0.648,1)" text-anchor="end">1200</text>
<text transform="translate(2342.4,312) scale(0.648,1)" text-anchor="end">1400</text>
<text transform="translate(2342.4,386.6) scale(0.648,1)" text-anchor="end">1600</text>
<text transform="translate(2342.4,461.2) scale(0.648,1)" text-anchor="end">1800</text>
<text transform="translate(2342.4,535.8) scale(0.648,1)" text-anchor="end">2000</text>
</g>
</svg>
</body></html>
